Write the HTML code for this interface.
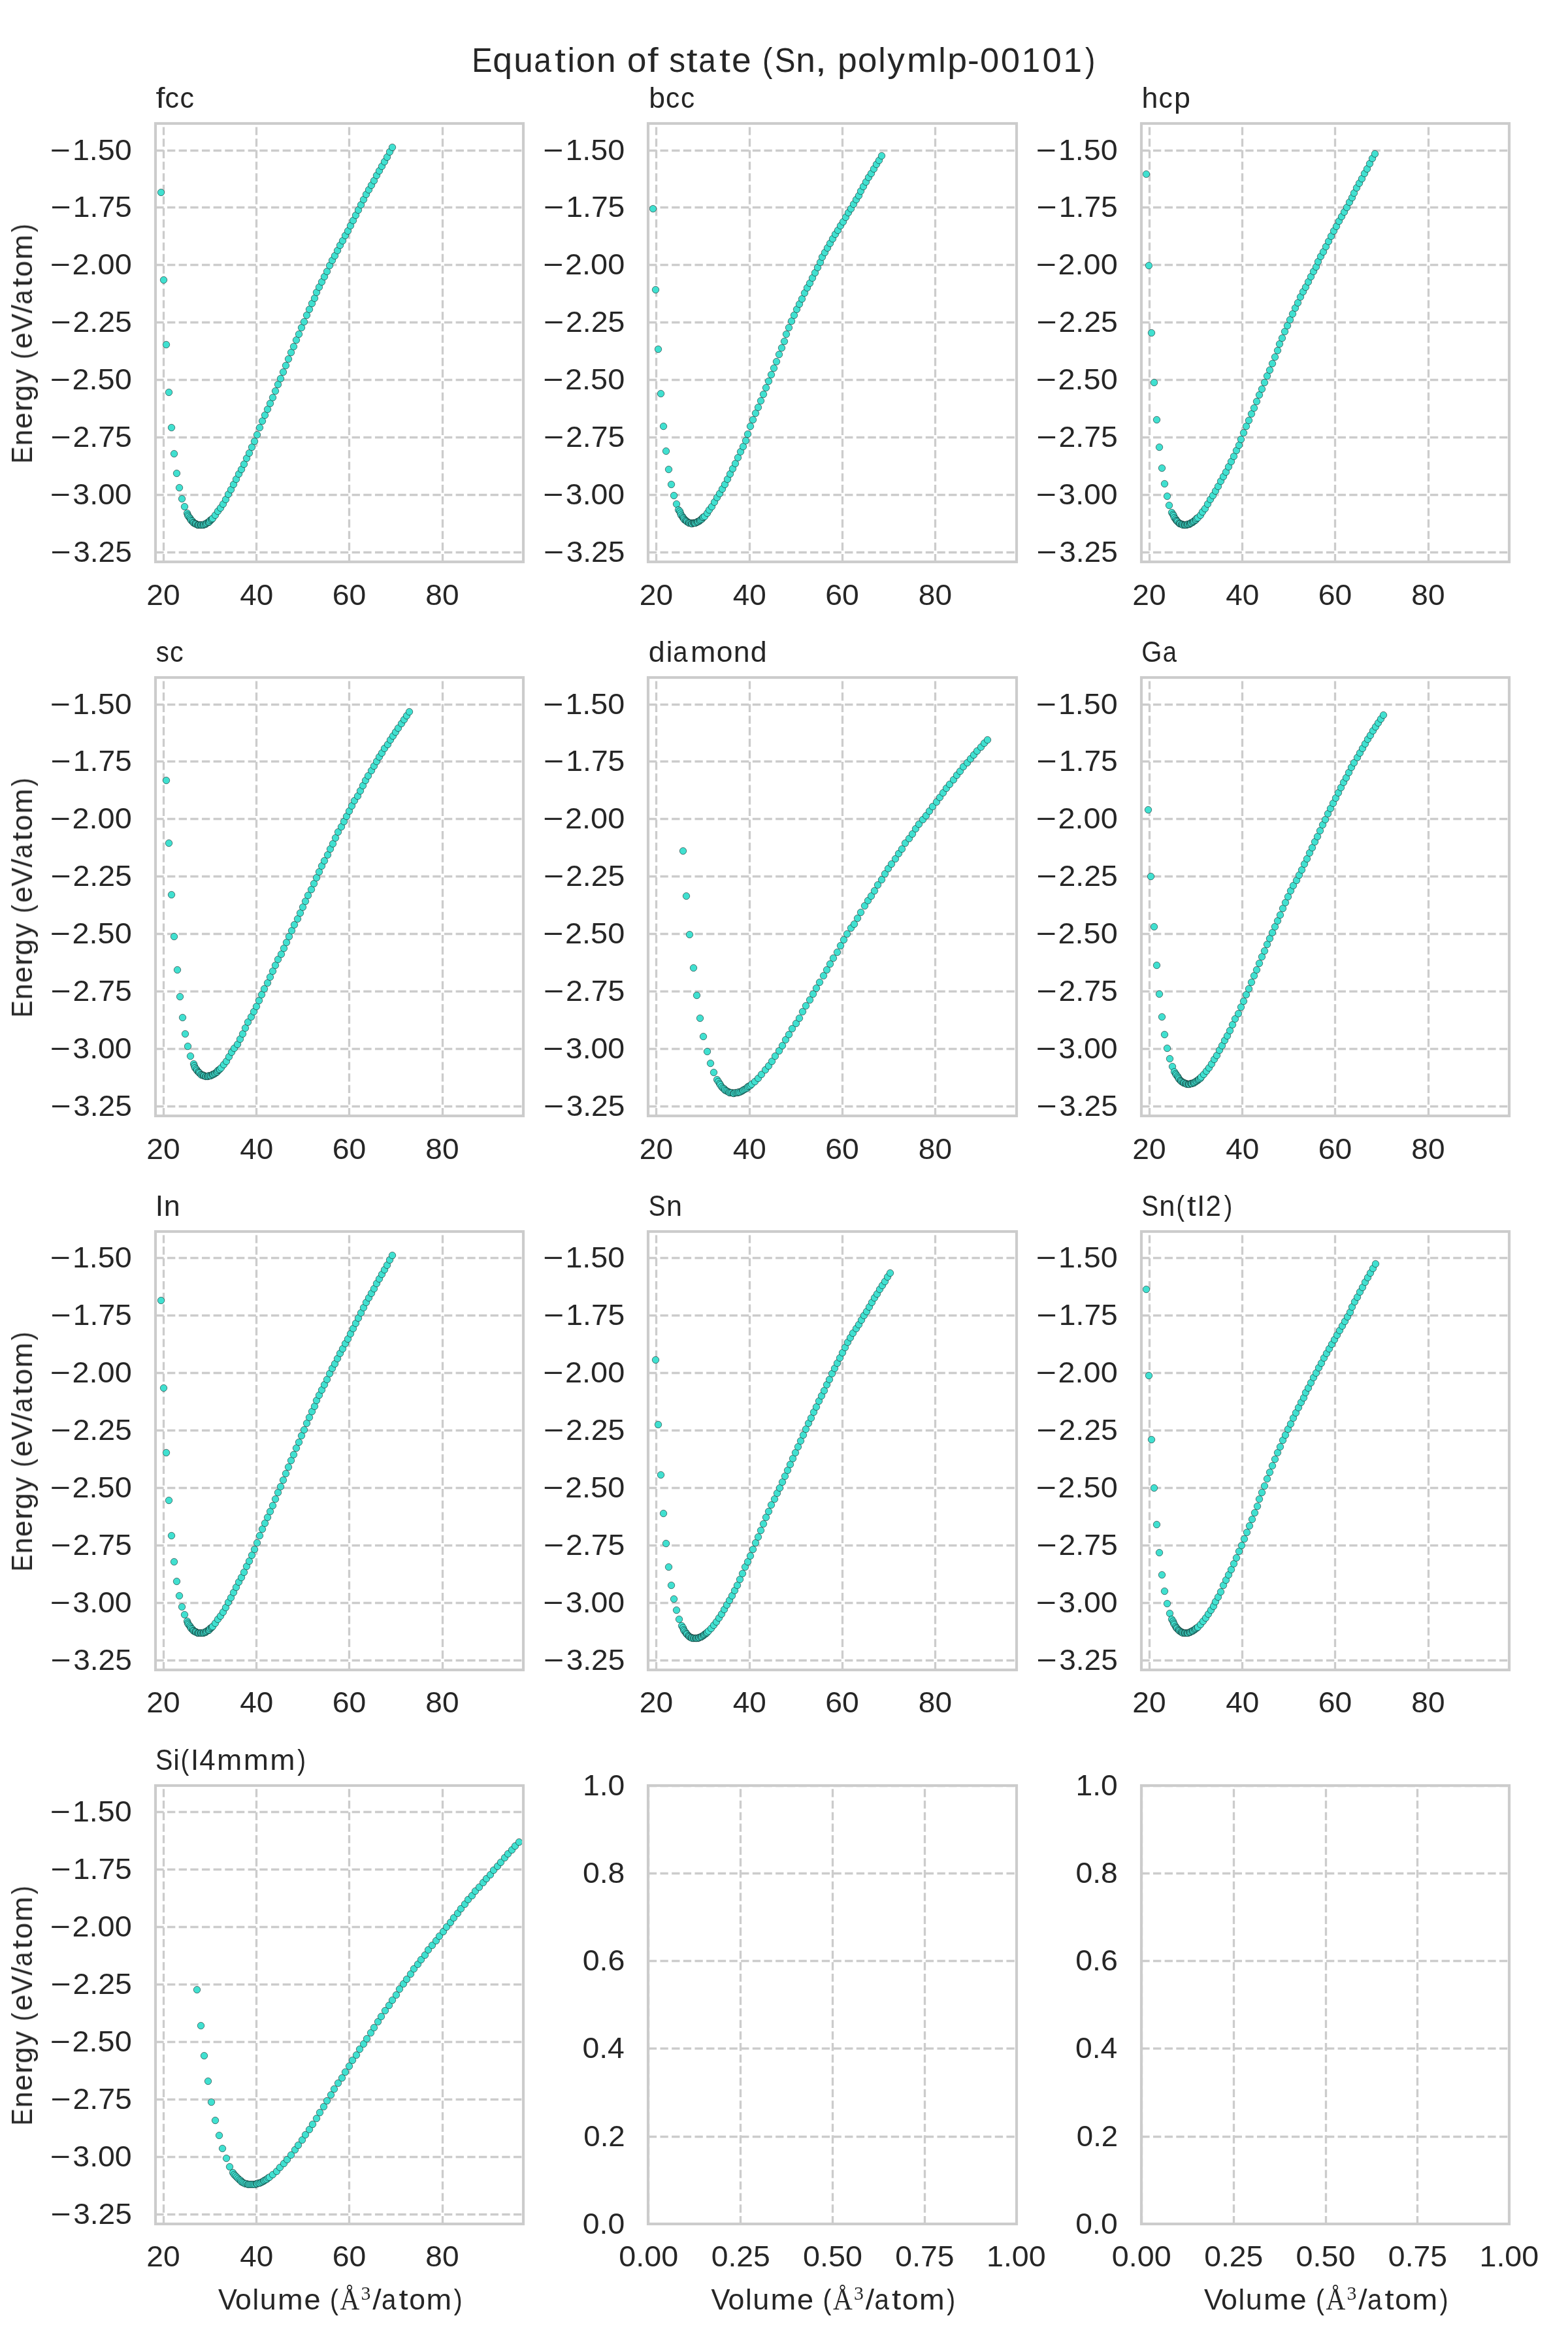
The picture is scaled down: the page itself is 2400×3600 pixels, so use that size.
<!DOCTYPE html>
<html lang="en"><head><meta charset="utf-8"><title>Equation of state (Sn, polymlp-00101)</title>
<style>html,body{margin:0;padding:0;background:#fff;overflow:hidden;width:2400px;height:3600px}svg{display:block}text{font-family:"Liberation Sans",sans-serif;fill:#262626}.sf{font-family:"Liberation Serif",serif}.g line{stroke:#cccccc;stroke-width:3.333;stroke-dasharray:12.333 5.333}.sp{fill:none;stroke:#cccccc;stroke-width:4.167}.m{fill:#40e0d0;stroke:#000;stroke-width:.5}</style></head>
<body>
<svg width="2400" height="3600" viewBox="0 0 2400 3600">
<rect width="2400" height="3600" fill="#fff"/>
<g id="ax0">
<clipPath id="c0"><rect x="238.3" y="189.45" width="563.45" height="671"/></clipPath>
<g class="g" clip-path="url(#c0)"><line x1="250.5" y1="860.45" x2="250.5" y2="189.45"/><line x1="392.5" y1="860.45" x2="392.5" y2="189.45"/><line x1="534.5" y1="860.45" x2="534.5" y2="189.45"/><line x1="677.5" y1="860.45" x2="677.5" y2="189.45"/><line x1="238.3" y1="230.5" x2="801.75" y2="230.5"/><line x1="238.3" y1="317.5" x2="801.75" y2="317.5"/><line x1="238.3" y1="405.5" x2="801.75" y2="405.5"/><line x1="238.3" y1="493.5" x2="801.75" y2="493.5"/><line x1="238.3" y1="581.5" x2="801.75" y2="581.5"/><line x1="238.3" y1="669.5" x2="801.75" y2="669.5"/><line x1="238.3" y1="757.5" x2="801.75" y2="757.5"/><line x1="238.3" y1="845.5" x2="801.75" y2="845.5"/></g>
<g class="m" clip-path="url(#c0)"><circle cx="246.5" cy="294.5" r="5.21"/><circle cx="250.5" cy="428.5" r="5.21"/><circle cx="254.5" cy="527.5" r="5.21"/><circle cx="258.5" cy="600.5" r="5.21"/><circle cx="262.5" cy="654.5" r="5.21"/><circle cx="266.5" cy="694.5" r="5.21"/><circle cx="270.5" cy="724.5" r="5.21"/><circle cx="274.5" cy="746.5" r="5.21"/><circle cx="278.5" cy="763.5" r="5.21"/><circle cx="282.5" cy="775.5" r="5.21"/><circle cx="286.5" cy="785.5" r="5.21"/><circle cx="287.5" cy="788.5" r="5.21"/><circle cx="288.5" cy="790.5" r="5.21"/><circle cx="290.5" cy="792.5" r="5.21"/><circle cx="291.5" cy="794.5" r="5.21"/><circle cx="292.5" cy="796.5" r="5.21"/><circle cx="294.5" cy="797.5" r="5.21"/><circle cx="295.5" cy="799.5" r="5.21"/><circle cx="296.5" cy="800.5" r="5.21"/><circle cx="298.5" cy="801.5" r="5.21"/><circle cx="299.5" cy="801.5" r="5.21"/><circle cx="300.5" cy="802.5" r="5.21"/><circle cx="302.5" cy="803.5" r="5.21"/><circle cx="303.5" cy="803.5" r="5.21"/><circle cx="304.5" cy="803.5" r="5.21"/><circle cx="306.5" cy="803.5" r="5.21"/><circle cx="307.5" cy="803.5" r="5.21"/><circle cx="308.5" cy="803.5" r="5.21"/><circle cx="310.5" cy="803.5" r="5.21"/><circle cx="311.5" cy="803.5" r="5.21"/><circle cx="312.5" cy="802.5" r="5.21"/><circle cx="314.5" cy="802.5" r="5.21"/><circle cx="315.5" cy="801.5" r="5.21"/><circle cx="316.5" cy="800.5" r="5.21"/><circle cx="318.5" cy="799.5" r="5.21"/><circle cx="319.5" cy="799.5" r="5.21"/><circle cx="320.5" cy="798.5" r="5.21"/><circle cx="321.5" cy="796.5" r="5.21"/><circle cx="323.5" cy="795.5" r="5.21"/><circle cx="324.5" cy="794.5" r="5.21"/><circle cx="325.5" cy="793.5" r="5.21"/><circle cx="329.5" cy="788.5" r="5.21"/><circle cx="333.5" cy="782.5" r="5.21"/><circle cx="337.5" cy="777.5" r="5.21"/><circle cx="341.5" cy="771.5" r="5.21"/><circle cx="345.5" cy="764.5" r="5.21"/><circle cx="349.5" cy="756.5" r="5.21"/><circle cx="353.5" cy="749.5" r="5.21"/><circle cx="357.5" cy="741.5" r="5.21"/><circle cx="361.5" cy="733.5" r="5.21"/><circle cx="365.5" cy="725.5" r="5.21"/><circle cx="369.5" cy="718.5" r="5.21"/><circle cx="373.5" cy="710.5" r="5.21"/><circle cx="377.5" cy="701.5" r="5.21"/><circle cx="381.5" cy="693.5" r="5.21"/><circle cx="385.5" cy="684.5" r="5.21"/><circle cx="389.5" cy="675.5" r="5.21"/><circle cx="393.5" cy="665.5" r="5.21"/><circle cx="397.5" cy="654.5" r="5.21"/><circle cx="401.5" cy="644.5" r="5.21"/><circle cx="405.5" cy="635.5" r="5.21"/><circle cx="409.5" cy="626.5" r="5.21"/><circle cx="413.5" cy="617.5" r="5.21"/><circle cx="417.5" cy="608.5" r="5.21"/><circle cx="421.5" cy="598.5" r="5.21"/><circle cx="425.5" cy="588.5" r="5.21"/><circle cx="429.5" cy="579.5" r="5.21"/><circle cx="433.5" cy="569.5" r="5.21"/><circle cx="437.5" cy="559.5" r="5.21"/><circle cx="441.5" cy="549.5" r="5.21"/><circle cx="445.5" cy="539.5" r="5.21"/><circle cx="449.5" cy="530.5" r="5.21"/><circle cx="453.5" cy="520.5" r="5.21"/><circle cx="457.5" cy="511.5" r="5.21"/><circle cx="461.5" cy="501.5" r="5.21"/><circle cx="465.5" cy="492.5" r="5.21"/><circle cx="469.5" cy="482.5" r="5.21"/><circle cx="473.5" cy="473.5" r="5.21"/><circle cx="477.5" cy="464.5" r="5.21"/><circle cx="481.5" cy="456.5" r="5.21"/><circle cx="484.5" cy="447.5" r="5.21"/><circle cx="488.5" cy="439.5" r="5.21"/><circle cx="492.5" cy="431.5" r="5.21"/><circle cx="496.5" cy="423.5" r="5.21"/><circle cx="500.5" cy="415.5" r="5.21"/><circle cx="504.5" cy="406.5" r="5.21"/><circle cx="508.5" cy="398.5" r="5.21"/><circle cx="512.5" cy="391.5" r="5.21"/><circle cx="516.5" cy="383.5" r="5.21"/><circle cx="520.5" cy="375.5" r="5.21"/><circle cx="524.5" cy="368.5" r="5.21"/><circle cx="528.5" cy="360.5" r="5.21"/><circle cx="532.5" cy="353.5" r="5.21"/><circle cx="536.5" cy="345.5" r="5.21"/><circle cx="540.5" cy="337.5" r="5.21"/><circle cx="544.5" cy="329.5" r="5.21"/><circle cx="548.5" cy="321.5" r="5.21"/><circle cx="552.5" cy="313.5" r="5.21"/><circle cx="556.5" cy="305.5" r="5.21"/><circle cx="560.5" cy="297.5" r="5.21"/><circle cx="564.5" cy="290.5" r="5.21"/><circle cx="568.5" cy="283.5" r="5.21"/><circle cx="572.5" cy="276.5" r="5.21"/><circle cx="576.5" cy="268.5" r="5.21"/><circle cx="580.5" cy="261.5" r="5.21"/><circle cx="584.5" cy="254.5" r="5.21"/><circle cx="588.5" cy="247.5" r="5.21"/><circle cx="592.5" cy="240.5" r="5.21"/><circle cx="596.5" cy="232.5" r="5.21"/><circle cx="600.5" cy="225.5" r="5.21"/></g>
<rect class="sp" x="238" y="189" width="563" height="671"/>
</g>
<g id="ax1">
<clipPath id="c1"><rect x="992.8" y="189.45" width="563.45" height="671"/></clipPath>
<g class="g" clip-path="url(#c1)"><line x1="1004.5" y1="860.45" x2="1004.5" y2="189.45"/><line x1="1147.5" y1="860.45" x2="1147.5" y2="189.45"/><line x1="1289.5" y1="860.45" x2="1289.5" y2="189.45"/><line x1="1431.5" y1="860.45" x2="1431.5" y2="189.45"/><line x1="992.8" y1="230.5" x2="1556.25" y2="230.5"/><line x1="992.8" y1="317.5" x2="1556.25" y2="317.5"/><line x1="992.8" y1="405.5" x2="1556.25" y2="405.5"/><line x1="992.8" y1="493.5" x2="1556.25" y2="493.5"/><line x1="992.8" y1="581.5" x2="1556.25" y2="581.5"/><line x1="992.8" y1="669.5" x2="1556.25" y2="669.5"/><line x1="992.8" y1="757.5" x2="1556.25" y2="757.5"/><line x1="992.8" y1="845.5" x2="1556.25" y2="845.5"/></g>
<g class="m" clip-path="url(#c1)"><circle cx="999.5" cy="319.5" r="5.21"/><circle cx="1003.5" cy="443.5" r="5.21"/><circle cx="1007.5" cy="534.5" r="5.21"/><circle cx="1011.5" cy="602.5" r="5.21"/><circle cx="1015.5" cy="652.5" r="5.21"/><circle cx="1019.5" cy="690.5" r="5.21"/><circle cx="1023.5" cy="718.5" r="5.21"/><circle cx="1027.5" cy="741.5" r="5.21"/><circle cx="1031.5" cy="758.5" r="5.21"/><circle cx="1035.5" cy="771.5" r="5.21"/><circle cx="1038.5" cy="780.5" r="5.21"/><circle cx="1040.5" cy="782.5" r="5.21"/><circle cx="1041.5" cy="785.5" r="5.21"/><circle cx="1042.5" cy="788.5" r="5.21"/><circle cx="1044.5" cy="790.5" r="5.21"/><circle cx="1045.5" cy="792.5" r="5.21"/><circle cx="1046.5" cy="793.5" r="5.21"/><circle cx="1047.5" cy="795.5" r="5.21"/><circle cx="1049.5" cy="796.5" r="5.21"/><circle cx="1050.5" cy="797.5" r="5.21"/><circle cx="1051.5" cy="798.5" r="5.21"/><circle cx="1053.5" cy="799.5" r="5.21"/><circle cx="1054.5" cy="800.5" r="5.21"/><circle cx="1055.5" cy="800.5" r="5.21"/><circle cx="1057.5" cy="800.5" r="5.21"/><circle cx="1058.5" cy="801.5" r="5.21"/><circle cx="1059.5" cy="801.5" r="5.21"/><circle cx="1061.5" cy="800.5" r="5.21"/><circle cx="1062.5" cy="800.5" r="5.21"/><circle cx="1063.5" cy="800.5" r="5.21"/><circle cx="1064.5" cy="800.5" r="5.21"/><circle cx="1066.5" cy="799.5" r="5.21"/><circle cx="1067.5" cy="798.5" r="5.21"/><circle cx="1068.5" cy="798.5" r="5.21"/><circle cx="1070.5" cy="797.5" r="5.21"/><circle cx="1071.5" cy="796.5" r="5.21"/><circle cx="1072.5" cy="795.5" r="5.21"/><circle cx="1074.5" cy="794.5" r="5.21"/><circle cx="1075.5" cy="792.5" r="5.21"/><circle cx="1076.5" cy="791.5" r="5.21"/><circle cx="1078.5" cy="790.5" r="5.21"/><circle cx="1082.5" cy="785.5" r="5.21"/><circle cx="1085.5" cy="780.5" r="5.21"/><circle cx="1089.5" cy="775.5" r="5.21"/><circle cx="1093.5" cy="768.5" r="5.21"/><circle cx="1097.5" cy="761.5" r="5.21"/><circle cx="1101.5" cy="755.5" r="5.21"/><circle cx="1105.5" cy="748.5" r="5.21"/><circle cx="1109.5" cy="741.5" r="5.21"/><circle cx="1113.5" cy="733.5" r="5.21"/><circle cx="1117.5" cy="725.5" r="5.21"/><circle cx="1121.5" cy="717.5" r="5.21"/><circle cx="1125.5" cy="709.5" r="5.21"/><circle cx="1129.5" cy="700.5" r="5.21"/><circle cx="1133.5" cy="691.5" r="5.21"/><circle cx="1137.5" cy="683.5" r="5.21"/><circle cx="1141.5" cy="674.5" r="5.21"/><circle cx="1144.5" cy="664.5" r="5.21"/><circle cx="1148.5" cy="652.5" r="5.21"/><circle cx="1152.5" cy="642.5" r="5.21"/><circle cx="1156.5" cy="632.5" r="5.21"/><circle cx="1160.5" cy="623.5" r="5.21"/><circle cx="1164.5" cy="613.5" r="5.21"/><circle cx="1168.5" cy="603.5" r="5.21"/><circle cx="1172.5" cy="593.5" r="5.21"/><circle cx="1176.5" cy="583.5" r="5.21"/><circle cx="1180.5" cy="573.5" r="5.21"/><circle cx="1184.5" cy="563.5" r="5.21"/><circle cx="1188.5" cy="553.5" r="5.21"/><circle cx="1192.5" cy="542.5" r="5.21"/><circle cx="1196.5" cy="532.5" r="5.21"/><circle cx="1200.5" cy="522.5" r="5.21"/><circle cx="1203.5" cy="511.5" r="5.21"/><circle cx="1207.5" cy="501.5" r="5.21"/><circle cx="1211.5" cy="491.5" r="5.21"/><circle cx="1215.5" cy="482.5" r="5.21"/><circle cx="1219.5" cy="473.5" r="5.21"/><circle cx="1223.5" cy="465.5" r="5.21"/><circle cx="1227.5" cy="457.5" r="5.21"/><circle cx="1231.5" cy="448.5" r="5.21"/><circle cx="1235.5" cy="440.5" r="5.21"/><circle cx="1239.5" cy="433.5" r="5.21"/><circle cx="1243.5" cy="425.5" r="5.21"/><circle cx="1247.5" cy="417.5" r="5.21"/><circle cx="1251.5" cy="409.5" r="5.21"/><circle cx="1255.5" cy="401.5" r="5.21"/><circle cx="1258.5" cy="393.5" r="5.21"/><circle cx="1262.5" cy="386.5" r="5.21"/><circle cx="1266.5" cy="379.5" r="5.21"/><circle cx="1270.5" cy="372.5" r="5.21"/><circle cx="1274.5" cy="365.5" r="5.21"/><circle cx="1278.5" cy="358.5" r="5.21"/><circle cx="1282.5" cy="352.5" r="5.21"/><circle cx="1286.5" cy="345.5" r="5.21"/><circle cx="1290.5" cy="339.5" r="5.21"/><circle cx="1294.5" cy="332.5" r="5.21"/><circle cx="1298.5" cy="325.5" r="5.21"/><circle cx="1302.5" cy="319.5" r="5.21"/><circle cx="1306.5" cy="312.5" r="5.21"/><circle cx="1310.5" cy="305.5" r="5.21"/><circle cx="1314.5" cy="299.5" r="5.21"/><circle cx="1317.5" cy="292.5" r="5.21"/><circle cx="1321.5" cy="285.5" r="5.21"/><circle cx="1325.5" cy="278.5" r="5.21"/><circle cx="1329.5" cy="271.5" r="5.21"/><circle cx="1333.5" cy="265.5" r="5.21"/><circle cx="1337.5" cy="258.5" r="5.21"/><circle cx="1341.5" cy="251.5" r="5.21"/><circle cx="1345.5" cy="245.5" r="5.21"/><circle cx="1349.5" cy="238.5" r="5.21"/></g>
<rect class="sp" x="992" y="189" width="564" height="671"/>
</g>
<g id="ax2">
<clipPath id="c2"><rect x="1747.3" y="189.45" width="563.45" height="671"/></clipPath>
<g class="g" clip-path="url(#c2)"><line x1="1759.5" y1="860.45" x2="1759.5" y2="189.45"/><line x1="1901.5" y1="860.45" x2="1901.5" y2="189.45"/><line x1="2043.5" y1="860.45" x2="2043.5" y2="189.45"/><line x1="2186.5" y1="860.45" x2="2186.5" y2="189.45"/><line x1="1747.3" y1="230.5" x2="2310.75" y2="230.5"/><line x1="1747.3" y1="317.5" x2="2310.75" y2="317.5"/><line x1="1747.3" y1="405.5" x2="2310.75" y2="405.5"/><line x1="1747.3" y1="493.5" x2="2310.75" y2="493.5"/><line x1="1747.3" y1="581.5" x2="2310.75" y2="581.5"/><line x1="1747.3" y1="669.5" x2="2310.75" y2="669.5"/><line x1="1747.3" y1="757.5" x2="2310.75" y2="757.5"/><line x1="1747.3" y1="845.5" x2="2310.75" y2="845.5"/></g>
<g class="m" clip-path="url(#c2)"><circle cx="1754.5" cy="266.5" r="5.21"/><circle cx="1758.5" cy="406.5" r="5.21"/><circle cx="1762.5" cy="509.5" r="5.21"/><circle cx="1766.5" cy="585.5" r="5.21"/><circle cx="1770.5" cy="642.5" r="5.21"/><circle cx="1774.5" cy="684.5" r="5.21"/><circle cx="1778.5" cy="716.5" r="5.21"/><circle cx="1782.5" cy="740.5" r="5.21"/><circle cx="1786.5" cy="759.5" r="5.21"/><circle cx="1789.5" cy="773.5" r="5.21"/><circle cx="1793.5" cy="784.5" r="5.21"/><circle cx="1795.5" cy="787.5" r="5.21"/><circle cx="1796.5" cy="789.5" r="5.21"/><circle cx="1797.5" cy="792.5" r="5.21"/><circle cx="1799.5" cy="794.5" r="5.21"/><circle cx="1800.5" cy="796.5" r="5.21"/><circle cx="1801.5" cy="797.5" r="5.21"/><circle cx="1802.5" cy="798.5" r="5.21"/><circle cx="1804.5" cy="800.5" r="5.21"/><circle cx="1805.5" cy="801.5" r="5.21"/><circle cx="1806.5" cy="801.5" r="5.21"/><circle cx="1808.5" cy="802.5" r="5.21"/><circle cx="1809.5" cy="802.5" r="5.21"/><circle cx="1810.5" cy="803.5" r="5.21"/><circle cx="1812.5" cy="803.5" r="5.21"/><circle cx="1813.5" cy="803.5" r="5.21"/><circle cx="1814.5" cy="803.5" r="5.21"/><circle cx="1816.5" cy="803.5" r="5.21"/><circle cx="1817.5" cy="802.5" r="5.21"/><circle cx="1818.5" cy="802.5" r="5.21"/><circle cx="1820.5" cy="802.5" r="5.21"/><circle cx="1821.5" cy="801.5" r="5.21"/><circle cx="1822.5" cy="800.5" r="5.21"/><circle cx="1823.5" cy="800.5" r="5.21"/><circle cx="1825.5" cy="799.5" r="5.21"/><circle cx="1826.5" cy="798.5" r="5.21"/><circle cx="1827.5" cy="797.5" r="5.21"/><circle cx="1829.5" cy="796.5" r="5.21"/><circle cx="1830.5" cy="795.5" r="5.21"/><circle cx="1831.5" cy="793.5" r="5.21"/><circle cx="1833.5" cy="792.5" r="5.21"/><circle cx="1837.5" cy="788.5" r="5.21"/><circle cx="1840.5" cy="783.5" r="5.21"/><circle cx="1844.5" cy="778.5" r="5.21"/><circle cx="1848.5" cy="771.5" r="5.21"/><circle cx="1852.5" cy="764.5" r="5.21"/><circle cx="1856.5" cy="758.5" r="5.21"/><circle cx="1860.5" cy="751.5" r="5.21"/><circle cx="1864.5" cy="744.5" r="5.21"/><circle cx="1868.5" cy="736.5" r="5.21"/><circle cx="1872.5" cy="729.5" r="5.21"/><circle cx="1876.5" cy="722.5" r="5.21"/><circle cx="1880.5" cy="714.5" r="5.21"/><circle cx="1884.5" cy="706.5" r="5.21"/><circle cx="1888.5" cy="698.5" r="5.21"/><circle cx="1892.5" cy="689.5" r="5.21"/><circle cx="1896.5" cy="681.5" r="5.21"/><circle cx="1899.5" cy="672.5" r="5.21"/><circle cx="1903.5" cy="662.5" r="5.21"/><circle cx="1907.5" cy="652.5" r="5.21"/><circle cx="1911.5" cy="643.5" r="5.21"/><circle cx="1915.5" cy="633.5" r="5.21"/><circle cx="1919.5" cy="624.5" r="5.21"/><circle cx="1923.5" cy="614.5" r="5.21"/><circle cx="1927.5" cy="604.5" r="5.21"/><circle cx="1931.5" cy="595.5" r="5.21"/><circle cx="1935.5" cy="585.5" r="5.21"/><circle cx="1939.5" cy="575.5" r="5.21"/><circle cx="1943.5" cy="566.5" r="5.21"/><circle cx="1947.5" cy="556.5" r="5.21"/><circle cx="1951.5" cy="546.5" r="5.21"/><circle cx="1955.5" cy="536.5" r="5.21"/><circle cx="1958.5" cy="526.5" r="5.21"/><circle cx="1962.5" cy="517.5" r="5.21"/><circle cx="1966.5" cy="507.5" r="5.21"/><circle cx="1970.5" cy="498.5" r="5.21"/><circle cx="1974.5" cy="489.5" r="5.21"/><circle cx="1978.5" cy="480.5" r="5.21"/><circle cx="1982.5" cy="471.5" r="5.21"/><circle cx="1986.5" cy="463.5" r="5.21"/><circle cx="1990.5" cy="454.5" r="5.21"/><circle cx="1994.5" cy="446.5" r="5.21"/><circle cx="1998.5" cy="439.5" r="5.21"/><circle cx="2002.5" cy="431.5" r="5.21"/><circle cx="2006.5" cy="423.5" r="5.21"/><circle cx="2010.5" cy="415.5" r="5.21"/><circle cx="2014.5" cy="408.5" r="5.21"/><circle cx="2017.5" cy="400.5" r="5.21"/><circle cx="2021.5" cy="392.5" r="5.21"/><circle cx="2025.5" cy="385.5" r="5.21"/><circle cx="2029.5" cy="377.5" r="5.21"/><circle cx="2033.5" cy="369.5" r="5.21"/><circle cx="2037.5" cy="361.5" r="5.21"/><circle cx="2041.5" cy="353.5" r="5.21"/><circle cx="2045.5" cy="346.5" r="5.21"/><circle cx="2049.5" cy="338.5" r="5.21"/><circle cx="2053.5" cy="331.5" r="5.21"/><circle cx="2057.5" cy="324.5" r="5.21"/><circle cx="2061.5" cy="317.5" r="5.21"/><circle cx="2065.5" cy="309.5" r="5.21"/><circle cx="2069.5" cy="302.5" r="5.21"/><circle cx="2072.5" cy="295.5" r="5.21"/><circle cx="2076.5" cy="287.5" r="5.21"/><circle cx="2080.5" cy="280.5" r="5.21"/><circle cx="2084.5" cy="273.5" r="5.21"/><circle cx="2088.5" cy="265.5" r="5.21"/><circle cx="2092.5" cy="258.5" r="5.21"/><circle cx="2096.5" cy="250.5" r="5.21"/><circle cx="2100.5" cy="242.5" r="5.21"/><circle cx="2104.5" cy="235.5" r="5.21"/></g>
<rect class="sp" x="1747" y="189" width="563" height="671"/>
</g>
<g id="ax3">
<clipPath id="c3"><rect x="238.3" y="1037.41" width="563.45" height="671"/></clipPath>
<g class="g" clip-path="url(#c3)"><line x1="250.5" y1="1708.41" x2="250.5" y2="1037.41"/><line x1="392.5" y1="1708.41" x2="392.5" y2="1037.41"/><line x1="534.5" y1="1708.41" x2="534.5" y2="1037.41"/><line x1="677.5" y1="1708.41" x2="677.5" y2="1037.41"/><line x1="238.3" y1="1078.5" x2="801.75" y2="1078.5"/><line x1="238.3" y1="1165.5" x2="801.75" y2="1165.5"/><line x1="238.3" y1="1253.5" x2="801.75" y2="1253.5"/><line x1="238.3" y1="1341.5" x2="801.75" y2="1341.5"/><line x1="238.3" y1="1429.5" x2="801.75" y2="1429.5"/><line x1="238.3" y1="1517.5" x2="801.75" y2="1517.5"/><line x1="238.3" y1="1605.5" x2="801.75" y2="1605.5"/><line x1="238.3" y1="1693.5" x2="801.75" y2="1693.5"/></g>
<g class="m" clip-path="url(#c3)"><circle cx="254.5" cy="1194.5" r="5.21"/><circle cx="258.5" cy="1290.5" r="5.21"/><circle cx="262.5" cy="1369.5" r="5.21"/><circle cx="266.5" cy="1433.5" r="5.21"/><circle cx="271.5" cy="1484.5" r="5.21"/><circle cx="275.5" cy="1525.5" r="5.21"/><circle cx="279.5" cy="1557.5" r="5.21"/><circle cx="283.5" cy="1582.5" r="5.21"/><circle cx="287.5" cy="1601.5" r="5.21"/><circle cx="291.5" cy="1616.5" r="5.21"/><circle cx="296.5" cy="1628.5" r="5.21"/><circle cx="297.5" cy="1631.5" r="5.21"/><circle cx="298.5" cy="1634.5" r="5.21"/><circle cx="300.5" cy="1636.5" r="5.21"/><circle cx="301.5" cy="1638.5" r="5.21"/><circle cx="303.5" cy="1640.5" r="5.21"/><circle cx="304.5" cy="1641.5" r="5.21"/><circle cx="305.5" cy="1642.5" r="5.21"/><circle cx="307.5" cy="1644.5" r="5.21"/><circle cx="308.5" cy="1645.5" r="5.21"/><circle cx="310.5" cy="1645.5" r="5.21"/><circle cx="311.5" cy="1646.5" r="5.21"/><circle cx="312.5" cy="1646.5" r="5.21"/><circle cx="314.5" cy="1647.5" r="5.21"/><circle cx="315.5" cy="1647.5" r="5.21"/><circle cx="317.5" cy="1647.5" r="5.21"/><circle cx="318.5" cy="1647.5" r="5.21"/><circle cx="319.5" cy="1646.5" r="5.21"/><circle cx="321.5" cy="1646.5" r="5.21"/><circle cx="322.5" cy="1646.5" r="5.21"/><circle cx="324.5" cy="1645.5" r="5.21"/><circle cx="325.5" cy="1644.5" r="5.21"/><circle cx="326.5" cy="1644.5" r="5.21"/><circle cx="328.5" cy="1643.5" r="5.21"/><circle cx="329.5" cy="1642.5" r="5.21"/><circle cx="331.5" cy="1641.5" r="5.21"/><circle cx="332.5" cy="1640.5" r="5.21"/><circle cx="333.5" cy="1638.5" r="5.21"/><circle cx="335.5" cy="1637.5" r="5.21"/><circle cx="336.5" cy="1636.5" r="5.21"/><circle cx="338.5" cy="1634.5" r="5.21"/><circle cx="342.5" cy="1629.5" r="5.21"/><circle cx="346.5" cy="1624.5" r="5.21"/><circle cx="350.5" cy="1617.5" r="5.21"/><circle cx="354.5" cy="1610.5" r="5.21"/><circle cx="358.5" cy="1604.5" r="5.21"/><circle cx="363.5" cy="1598.5" r="5.21"/><circle cx="367.5" cy="1590.5" r="5.21"/><circle cx="371.5" cy="1582.5" r="5.21"/><circle cx="375.5" cy="1573.5" r="5.21"/><circle cx="379.5" cy="1564.5" r="5.21"/><circle cx="384.5" cy="1556.5" r="5.21"/><circle cx="388.5" cy="1548.5" r="5.21"/><circle cx="392.5" cy="1540.5" r="5.21"/><circle cx="396.5" cy="1531.5" r="5.21"/><circle cx="400.5" cy="1522.5" r="5.21"/><circle cx="404.5" cy="1513.5" r="5.21"/><circle cx="409.5" cy="1504.5" r="5.21"/><circle cx="413.5" cy="1495.5" r="5.21"/><circle cx="417.5" cy="1486.5" r="5.21"/><circle cx="421.5" cy="1477.5" r="5.21"/><circle cx="425.5" cy="1468.5" r="5.21"/><circle cx="430.5" cy="1460.5" r="5.21"/><circle cx="434.5" cy="1451.5" r="5.21"/><circle cx="438.5" cy="1442.5" r="5.21"/><circle cx="442.5" cy="1433.5" r="5.21"/><circle cx="446.5" cy="1424.5" r="5.21"/><circle cx="450.5" cy="1415.5" r="5.21"/><circle cx="455.5" cy="1406.5" r="5.21"/><circle cx="459.5" cy="1397.5" r="5.21"/><circle cx="463.5" cy="1388.5" r="5.21"/><circle cx="467.5" cy="1379.5" r="5.21"/><circle cx="471.5" cy="1370.5" r="5.21"/><circle cx="476.5" cy="1361.5" r="5.21"/><circle cx="480.5" cy="1352.5" r="5.21"/><circle cx="484.5" cy="1343.5" r="5.21"/><circle cx="488.5" cy="1334.5" r="5.21"/><circle cx="492.5" cy="1325.5" r="5.21"/><circle cx="496.5" cy="1317.5" r="5.21"/><circle cx="501.5" cy="1308.5" r="5.21"/><circle cx="505.5" cy="1299.5" r="5.21"/><circle cx="509.5" cy="1291.5" r="5.21"/><circle cx="513.5" cy="1282.5" r="5.21"/><circle cx="517.5" cy="1273.5" r="5.21"/><circle cx="522.5" cy="1265.5" r="5.21"/><circle cx="526.5" cy="1257.5" r="5.21"/><circle cx="530.5" cy="1249.5" r="5.21"/><circle cx="534.5" cy="1241.5" r="5.21"/><circle cx="538.5" cy="1233.5" r="5.21"/><circle cx="542.5" cy="1225.5" r="5.21"/><circle cx="547.5" cy="1218.5" r="5.21"/><circle cx="551.5" cy="1210.5" r="5.21"/><circle cx="555.5" cy="1202.5" r="5.21"/><circle cx="559.5" cy="1194.5" r="5.21"/><circle cx="563.5" cy="1187.5" r="5.21"/><circle cx="568.5" cy="1179.5" r="5.21"/><circle cx="572.5" cy="1172.5" r="5.21"/><circle cx="576.5" cy="1165.5" r="5.21"/><circle cx="580.5" cy="1158.5" r="5.21"/><circle cx="584.5" cy="1152.5" r="5.21"/><circle cx="588.5" cy="1145.5" r="5.21"/><circle cx="593.5" cy="1139.5" r="5.21"/><circle cx="597.5" cy="1132.5" r="5.21"/><circle cx="601.5" cy="1126.5" r="5.21"/><circle cx="605.5" cy="1120.5" r="5.21"/><circle cx="609.5" cy="1114.5" r="5.21"/><circle cx="614.5" cy="1107.5" r="5.21"/><circle cx="618.5" cy="1101.5" r="5.21"/><circle cx="622.5" cy="1095.5" r="5.21"/><circle cx="626.5" cy="1089.5" r="5.21"/></g>
<rect class="sp" x="238" y="1037" width="563" height="671"/>
</g>
<g id="ax4">
<clipPath id="c4"><rect x="992.8" y="1037.41" width="563.45" height="671"/></clipPath>
<g class="g" clip-path="url(#c4)"><line x1="1004.5" y1="1708.41" x2="1004.5" y2="1037.41"/><line x1="1147.5" y1="1708.41" x2="1147.5" y2="1037.41"/><line x1="1289.5" y1="1708.41" x2="1289.5" y2="1037.41"/><line x1="1431.5" y1="1708.41" x2="1431.5" y2="1037.41"/><line x1="992.8" y1="1078.5" x2="1556.25" y2="1078.5"/><line x1="992.8" y1="1165.5" x2="1556.25" y2="1165.5"/><line x1="992.8" y1="1253.5" x2="1556.25" y2="1253.5"/><line x1="992.8" y1="1341.5" x2="1556.25" y2="1341.5"/><line x1="992.8" y1="1429.5" x2="1556.25" y2="1429.5"/><line x1="992.8" y1="1517.5" x2="1556.25" y2="1517.5"/><line x1="992.8" y1="1605.5" x2="1556.25" y2="1605.5"/><line x1="992.8" y1="1693.5" x2="1556.25" y2="1693.5"/></g>
<g class="m" clip-path="url(#c4)"><circle cx="1045.5" cy="1302.5" r="5.21"/><circle cx="1050.5" cy="1371.5" r="5.21"/><circle cx="1055.5" cy="1430.5" r="5.21"/><circle cx="1061.5" cy="1481.5" r="5.21"/><circle cx="1066.5" cy="1523.5" r="5.21"/><circle cx="1071.5" cy="1558.5" r="5.21"/><circle cx="1076.5" cy="1586.5" r="5.21"/><circle cx="1082.5" cy="1609.5" r="5.21"/><circle cx="1087.5" cy="1627.5" r="5.21"/><circle cx="1092.5" cy="1641.5" r="5.21"/><circle cx="1097.5" cy="1652.5" r="5.21"/><circle cx="1099.5" cy="1655.5" r="5.21"/><circle cx="1101.5" cy="1658.5" r="5.21"/><circle cx="1102.5" cy="1660.5" r="5.21"/><circle cx="1104.5" cy="1663.5" r="5.21"/><circle cx="1106.5" cy="1665.5" r="5.21"/><circle cx="1108.5" cy="1666.5" r="5.21"/><circle cx="1109.5" cy="1668.5" r="5.21"/><circle cx="1111.5" cy="1669.5" r="5.21"/><circle cx="1113.5" cy="1670.5" r="5.21"/><circle cx="1115.5" cy="1671.5" r="5.21"/><circle cx="1116.5" cy="1672.5" r="5.21"/><circle cx="1118.5" cy="1672.5" r="5.21"/><circle cx="1120.5" cy="1672.5" r="5.21"/><circle cx="1122.5" cy="1673.5" r="5.21"/><circle cx="1123.5" cy="1673.5" r="5.21"/><circle cx="1125.5" cy="1672.5" r="5.21"/><circle cx="1127.5" cy="1672.5" r="5.21"/><circle cx="1129.5" cy="1672.5" r="5.21"/><circle cx="1130.5" cy="1671.5" r="5.21"/><circle cx="1132.5" cy="1671.5" r="5.21"/><circle cx="1134.5" cy="1670.5" r="5.21"/><circle cx="1136.5" cy="1669.5" r="5.21"/><circle cx="1137.5" cy="1668.5" r="5.21"/><circle cx="1139.5" cy="1667.5" r="5.21"/><circle cx="1141.5" cy="1666.5" r="5.21"/><circle cx="1143.5" cy="1665.5" r="5.21"/><circle cx="1144.5" cy="1663.5" r="5.21"/><circle cx="1146.5" cy="1662.5" r="5.21"/><circle cx="1148.5" cy="1661.5" r="5.21"/><circle cx="1150.5" cy="1659.5" r="5.21"/><circle cx="1155.5" cy="1655.5" r="5.21"/><circle cx="1160.5" cy="1650.5" r="5.21"/><circle cx="1165.5" cy="1644.5" r="5.21"/><circle cx="1171.5" cy="1637.5" r="5.21"/><circle cx="1176.5" cy="1631.5" r="5.21"/><circle cx="1181.5" cy="1624.5" r="5.21"/><circle cx="1186.5" cy="1616.5" r="5.21"/><circle cx="1192.5" cy="1608.5" r="5.21"/><circle cx="1197.5" cy="1600.5" r="5.21"/><circle cx="1202.5" cy="1591.5" r="5.21"/><circle cx="1207.5" cy="1583.5" r="5.21"/><circle cx="1212.5" cy="1574.5" r="5.21"/><circle cx="1218.5" cy="1566.5" r="5.21"/><circle cx="1223.5" cy="1558.5" r="5.21"/><circle cx="1228.5" cy="1548.5" r="5.21"/><circle cx="1233.5" cy="1539.5" r="5.21"/><circle cx="1239.5" cy="1530.5" r="5.21"/><circle cx="1244.5" cy="1521.5" r="5.21"/><circle cx="1249.5" cy="1512.5" r="5.21"/><circle cx="1254.5" cy="1503.5" r="5.21"/><circle cx="1260.5" cy="1493.5" r="5.21"/><circle cx="1265.5" cy="1484.5" r="5.21"/><circle cx="1270.5" cy="1475.5" r="5.21"/><circle cx="1275.5" cy="1466.5" r="5.21"/><circle cx="1281.5" cy="1457.5" r="5.21"/><circle cx="1286.5" cy="1447.5" r="5.21"/><circle cx="1291.5" cy="1438.5" r="5.21"/><circle cx="1296.5" cy="1429.5" r="5.21"/><circle cx="1302.5" cy="1420.5" r="5.21"/><circle cx="1307.5" cy="1414.5" r="5.21"/><circle cx="1312.5" cy="1405.5" r="5.21"/><circle cx="1317.5" cy="1396.5" r="5.21"/><circle cx="1323.5" cy="1386.5" r="5.21"/><circle cx="1328.5" cy="1378.5" r="5.21"/><circle cx="1333.5" cy="1371.5" r="5.21"/><circle cx="1338.5" cy="1363.5" r="5.21"/><circle cx="1343.5" cy="1354.5" r="5.21"/><circle cx="1349.5" cy="1346.5" r="5.21"/><circle cx="1354.5" cy="1337.5" r="5.21"/><circle cx="1359.5" cy="1329.5" r="5.21"/><circle cx="1364.5" cy="1322.5" r="5.21"/><circle cx="1370.5" cy="1314.5" r="5.21"/><circle cx="1375.5" cy="1306.5" r="5.21"/><circle cx="1380.5" cy="1299.5" r="5.21"/><circle cx="1385.5" cy="1290.5" r="5.21"/><circle cx="1391.5" cy="1283.5" r="5.21"/><circle cx="1396.5" cy="1276.5" r="5.21"/><circle cx="1401.5" cy="1268.5" r="5.21"/><circle cx="1406.5" cy="1261.5" r="5.21"/><circle cx="1412.5" cy="1254.5" r="5.21"/><circle cx="1417.5" cy="1248.5" r="5.21"/><circle cx="1422.5" cy="1241.5" r="5.21"/><circle cx="1427.5" cy="1234.5" r="5.21"/><circle cx="1433.5" cy="1227.5" r="5.21"/><circle cx="1438.5" cy="1220.5" r="5.21"/><circle cx="1443.5" cy="1213.5" r="5.21"/><circle cx="1448.5" cy="1206.5" r="5.21"/><circle cx="1453.5" cy="1200.5" r="5.21"/><circle cx="1459.5" cy="1193.5" r="5.21"/><circle cx="1464.5" cy="1186.5" r="5.21"/><circle cx="1469.5" cy="1180.5" r="5.21"/><circle cx="1474.5" cy="1173.5" r="5.21"/><circle cx="1480.5" cy="1167.5" r="5.21"/><circle cx="1485.5" cy="1161.5" r="5.21"/><circle cx="1490.5" cy="1155.5" r="5.21"/><circle cx="1495.5" cy="1149.5" r="5.21"/><circle cx="1501.5" cy="1143.5" r="5.21"/><circle cx="1506.5" cy="1137.5" r="5.21"/><circle cx="1511.5" cy="1132.5" r="5.21"/></g>
<rect class="sp" x="992" y="1037" width="564" height="671"/>
</g>
<g id="ax5">
<clipPath id="c5"><rect x="1747.3" y="1037.41" width="563.45" height="671"/></clipPath>
<g class="g" clip-path="url(#c5)"><line x1="1759.5" y1="1708.41" x2="1759.5" y2="1037.41"/><line x1="1901.5" y1="1708.41" x2="1901.5" y2="1037.41"/><line x1="2043.5" y1="1708.41" x2="2043.5" y2="1037.41"/><line x1="2186.5" y1="1708.41" x2="2186.5" y2="1037.41"/><line x1="1747.3" y1="1078.5" x2="2310.75" y2="1078.5"/><line x1="1747.3" y1="1165.5" x2="2310.75" y2="1165.5"/><line x1="1747.3" y1="1253.5" x2="2310.75" y2="1253.5"/><line x1="1747.3" y1="1341.5" x2="2310.75" y2="1341.5"/><line x1="1747.3" y1="1429.5" x2="2310.75" y2="1429.5"/><line x1="1747.3" y1="1517.5" x2="2310.75" y2="1517.5"/><line x1="1747.3" y1="1605.5" x2="2310.75" y2="1605.5"/><line x1="1747.3" y1="1693.5" x2="2310.75" y2="1693.5"/></g>
<g class="m" clip-path="url(#c5)"><circle cx="1757.5" cy="1239.5" r="5.21"/><circle cx="1761.5" cy="1341.5" r="5.21"/><circle cx="1766.5" cy="1418.5" r="5.21"/><circle cx="1770.5" cy="1477.5" r="5.21"/><circle cx="1774.5" cy="1521.5" r="5.21"/><circle cx="1778.5" cy="1556.5" r="5.21"/><circle cx="1782.5" cy="1583.5" r="5.21"/><circle cx="1786.5" cy="1604.5" r="5.21"/><circle cx="1790.5" cy="1620.5" r="5.21"/><circle cx="1794.5" cy="1632.5" r="5.21"/><circle cx="1797.5" cy="1640.5" r="5.21"/><circle cx="1799.5" cy="1643.5" r="5.21"/><circle cx="1800.5" cy="1645.5" r="5.21"/><circle cx="1802.5" cy="1647.5" r="5.21"/><circle cx="1803.5" cy="1649.5" r="5.21"/><circle cx="1804.5" cy="1651.5" r="5.21"/><circle cx="1806.5" cy="1653.5" r="5.21"/><circle cx="1807.5" cy="1654.5" r="5.21"/><circle cx="1808.5" cy="1655.5" r="5.21"/><circle cx="1810.5" cy="1656.5" r="5.21"/><circle cx="1811.5" cy="1657.5" r="5.21"/><circle cx="1812.5" cy="1657.5" r="5.21"/><circle cx="1814.5" cy="1658.5" r="5.21"/><circle cx="1815.5" cy="1658.5" r="5.21"/><circle cx="1816.5" cy="1659.5" r="5.21"/><circle cx="1818.5" cy="1659.5" r="5.21"/><circle cx="1819.5" cy="1659.5" r="5.21"/><circle cx="1820.5" cy="1659.5" r="5.21"/><circle cx="1822.5" cy="1658.5" r="5.21"/><circle cx="1823.5" cy="1658.5" r="5.21"/><circle cx="1824.5" cy="1658.5" r="5.21"/><circle cx="1826.5" cy="1657.5" r="5.21"/><circle cx="1827.5" cy="1657.5" r="5.21"/><circle cx="1828.5" cy="1656.5" r="5.21"/><circle cx="1830.5" cy="1655.5" r="5.21"/><circle cx="1831.5" cy="1654.5" r="5.21"/><circle cx="1833.5" cy="1653.5" r="5.21"/><circle cx="1834.5" cy="1652.5" r="5.21"/><circle cx="1835.5" cy="1651.5" r="5.21"/><circle cx="1837.5" cy="1650.5" r="5.21"/><circle cx="1838.5" cy="1648.5" r="5.21"/><circle cx="1842.5" cy="1644.5" r="5.21"/><circle cx="1846.5" cy="1639.5" r="5.21"/><circle cx="1850.5" cy="1634.5" r="5.21"/><circle cx="1854.5" cy="1628.5" r="5.21"/><circle cx="1858.5" cy="1621.5" r="5.21"/><circle cx="1862.5" cy="1615.5" r="5.21"/><circle cx="1866.5" cy="1607.5" r="5.21"/><circle cx="1870.5" cy="1600.5" r="5.21"/><circle cx="1874.5" cy="1592.5" r="5.21"/><circle cx="1878.5" cy="1585.5" r="5.21"/><circle cx="1882.5" cy="1577.5" r="5.21"/><circle cx="1886.5" cy="1568.5" r="5.21"/><circle cx="1890.5" cy="1559.5" r="5.21"/><circle cx="1895.5" cy="1551.5" r="5.21"/><circle cx="1899.5" cy="1541.5" r="5.21"/><circle cx="1903.5" cy="1532.5" r="5.21"/><circle cx="1907.5" cy="1522.5" r="5.21"/><circle cx="1911.5" cy="1513.5" r="5.21"/><circle cx="1915.5" cy="1503.5" r="5.21"/><circle cx="1919.5" cy="1493.5" r="5.21"/><circle cx="1923.5" cy="1484.5" r="5.21"/><circle cx="1927.5" cy="1474.5" r="5.21"/><circle cx="1931.5" cy="1464.5" r="5.21"/><circle cx="1935.5" cy="1455.5" r="5.21"/><circle cx="1939.5" cy="1445.5" r="5.21"/><circle cx="1943.5" cy="1436.5" r="5.21"/><circle cx="1947.5" cy="1427.5" r="5.21"/><circle cx="1951.5" cy="1418.5" r="5.21"/><circle cx="1955.5" cy="1409.5" r="5.21"/><circle cx="1959.5" cy="1400.5" r="5.21"/><circle cx="1963.5" cy="1390.5" r="5.21"/><circle cx="1967.5" cy="1381.5" r="5.21"/><circle cx="1971.5" cy="1372.5" r="5.21"/><circle cx="1975.5" cy="1363.5" r="5.21"/><circle cx="1979.5" cy="1355.5" r="5.21"/><circle cx="1984.5" cy="1347.5" r="5.21"/><circle cx="1988.5" cy="1339.5" r="5.21"/><circle cx="1992.5" cy="1331.5" r="5.21"/><circle cx="1996.5" cy="1322.5" r="5.21"/><circle cx="2000.5" cy="1314.5" r="5.21"/><circle cx="2004.5" cy="1305.5" r="5.21"/><circle cx="2008.5" cy="1297.5" r="5.21"/><circle cx="2012.5" cy="1288.5" r="5.21"/><circle cx="2016.5" cy="1280.5" r="5.21"/><circle cx="2020.5" cy="1271.5" r="5.21"/><circle cx="2024.5" cy="1262.5" r="5.21"/><circle cx="2028.5" cy="1254.5" r="5.21"/><circle cx="2032.5" cy="1245.5" r="5.21"/><circle cx="2036.5" cy="1237.5" r="5.21"/><circle cx="2040.5" cy="1229.5" r="5.21"/><circle cx="2044.5" cy="1221.5" r="5.21"/><circle cx="2048.5" cy="1213.5" r="5.21"/><circle cx="2052.5" cy="1205.5" r="5.21"/><circle cx="2056.5" cy="1197.5" r="5.21"/><circle cx="2060.5" cy="1190.5" r="5.21"/><circle cx="2064.5" cy="1182.5" r="5.21"/><circle cx="2068.5" cy="1174.5" r="5.21"/><circle cx="2072.5" cy="1167.5" r="5.21"/><circle cx="2077.5" cy="1159.5" r="5.21"/><circle cx="2081.5" cy="1152.5" r="5.21"/><circle cx="2085.5" cy="1145.5" r="5.21"/><circle cx="2089.5" cy="1138.5" r="5.21"/><circle cx="2093.5" cy="1131.5" r="5.21"/><circle cx="2097.5" cy="1125.5" r="5.21"/><circle cx="2101.5" cy="1118.5" r="5.21"/><circle cx="2105.5" cy="1112.5" r="5.21"/><circle cx="2109.5" cy="1106.5" r="5.21"/><circle cx="2113.5" cy="1100.5" r="5.21"/><circle cx="2117.5" cy="1094.5" r="5.21"/></g>
<rect class="sp" x="1747" y="1037" width="563" height="671"/>
</g>
<g id="ax6">
<clipPath id="c6"><rect x="238.3" y="1885.37" width="563.45" height="671"/></clipPath>
<g class="g" clip-path="url(#c6)"><line x1="250.5" y1="2556.37" x2="250.5" y2="1885.37"/><line x1="392.5" y1="2556.37" x2="392.5" y2="1885.37"/><line x1="534.5" y1="2556.37" x2="534.5" y2="1885.37"/><line x1="677.5" y1="2556.37" x2="677.5" y2="1885.37"/><line x1="238.3" y1="1925.5" x2="801.75" y2="1925.5"/><line x1="238.3" y1="2013.5" x2="801.75" y2="2013.5"/><line x1="238.3" y1="2101.5" x2="801.75" y2="2101.5"/><line x1="238.3" y1="2189.5" x2="801.75" y2="2189.5"/><line x1="238.3" y1="2277.5" x2="801.75" y2="2277.5"/><line x1="238.3" y1="2365.5" x2="801.75" y2="2365.5"/><line x1="238.3" y1="2453.5" x2="801.75" y2="2453.5"/><line x1="238.3" y1="2541.5" x2="801.75" y2="2541.5"/></g>
<g class="m" clip-path="url(#c6)"><circle cx="246.5" cy="1990.5" r="5.21"/><circle cx="250.5" cy="2124.5" r="5.21"/><circle cx="254.5" cy="2223.5" r="5.21"/><circle cx="258.5" cy="2296.5" r="5.21"/><circle cx="262.5" cy="2350.5" r="5.21"/><circle cx="266.5" cy="2390.5" r="5.21"/><circle cx="270.5" cy="2420.5" r="5.21"/><circle cx="274.5" cy="2442.5" r="5.21"/><circle cx="278.5" cy="2459.5" r="5.21"/><circle cx="282.5" cy="2471.5" r="5.21"/><circle cx="286.5" cy="2481.5" r="5.21"/><circle cx="287.5" cy="2484.5" r="5.21"/><circle cx="288.5" cy="2486.5" r="5.21"/><circle cx="290.5" cy="2488.5" r="5.21"/><circle cx="291.5" cy="2490.5" r="5.21"/><circle cx="292.5" cy="2492.5" r="5.21"/><circle cx="294.5" cy="2493.5" r="5.21"/><circle cx="295.5" cy="2495.5" r="5.21"/><circle cx="296.5" cy="2496.5" r="5.21"/><circle cx="298.5" cy="2497.5" r="5.21"/><circle cx="299.5" cy="2497.5" r="5.21"/><circle cx="300.5" cy="2498.5" r="5.21"/><circle cx="302.5" cy="2499.5" r="5.21"/><circle cx="303.5" cy="2499.5" r="5.21"/><circle cx="304.5" cy="2499.5" r="5.21"/><circle cx="306.5" cy="2499.5" r="5.21"/><circle cx="307.5" cy="2499.5" r="5.21"/><circle cx="308.5" cy="2499.5" r="5.21"/><circle cx="310.5" cy="2499.5" r="5.21"/><circle cx="311.5" cy="2499.5" r="5.21"/><circle cx="312.5" cy="2498.5" r="5.21"/><circle cx="314.5" cy="2498.5" r="5.21"/><circle cx="315.5" cy="2497.5" r="5.21"/><circle cx="316.5" cy="2496.5" r="5.21"/><circle cx="318.5" cy="2495.5" r="5.21"/><circle cx="319.5" cy="2495.5" r="5.21"/><circle cx="320.5" cy="2494.5" r="5.21"/><circle cx="321.5" cy="2492.5" r="5.21"/><circle cx="323.5" cy="2491.5" r="5.21"/><circle cx="324.5" cy="2490.5" r="5.21"/><circle cx="325.5" cy="2489.5" r="5.21"/><circle cx="329.5" cy="2484.5" r="5.21"/><circle cx="333.5" cy="2478.5" r="5.21"/><circle cx="337.5" cy="2473.5" r="5.21"/><circle cx="341.5" cy="2467.5" r="5.21"/><circle cx="345.5" cy="2460.5" r="5.21"/><circle cx="349.5" cy="2452.5" r="5.21"/><circle cx="353.5" cy="2445.5" r="5.21"/><circle cx="357.5" cy="2437.5" r="5.21"/><circle cx="361.5" cy="2429.5" r="5.21"/><circle cx="365.5" cy="2421.5" r="5.21"/><circle cx="369.5" cy="2414.5" r="5.21"/><circle cx="373.5" cy="2406.5" r="5.21"/><circle cx="377.5" cy="2397.5" r="5.21"/><circle cx="381.5" cy="2389.5" r="5.21"/><circle cx="385.5" cy="2380.5" r="5.21"/><circle cx="389.5" cy="2371.5" r="5.21"/><circle cx="393.5" cy="2361.5" r="5.21"/><circle cx="397.5" cy="2350.5" r="5.21"/><circle cx="401.5" cy="2340.5" r="5.21"/><circle cx="405.5" cy="2331.5" r="5.21"/><circle cx="409.5" cy="2322.5" r="5.21"/><circle cx="413.5" cy="2313.5" r="5.21"/><circle cx="417.5" cy="2304.5" r="5.21"/><circle cx="421.5" cy="2294.5" r="5.21"/><circle cx="425.5" cy="2284.5" r="5.21"/><circle cx="429.5" cy="2275.5" r="5.21"/><circle cx="433.5" cy="2265.5" r="5.21"/><circle cx="437.5" cy="2255.5" r="5.21"/><circle cx="441.5" cy="2245.5" r="5.21"/><circle cx="445.5" cy="2235.5" r="5.21"/><circle cx="449.5" cy="2226.5" r="5.21"/><circle cx="453.5" cy="2216.5" r="5.21"/><circle cx="457.5" cy="2207.5" r="5.21"/><circle cx="461.5" cy="2197.5" r="5.21"/><circle cx="465.5" cy="2188.5" r="5.21"/><circle cx="469.5" cy="2178.5" r="5.21"/><circle cx="473.5" cy="2169.5" r="5.21"/><circle cx="477.5" cy="2160.5" r="5.21"/><circle cx="481.5" cy="2152.5" r="5.21"/><circle cx="484.5" cy="2143.5" r="5.21"/><circle cx="488.5" cy="2135.5" r="5.21"/><circle cx="492.5" cy="2127.5" r="5.21"/><circle cx="496.5" cy="2119.5" r="5.21"/><circle cx="500.5" cy="2111.5" r="5.21"/><circle cx="504.5" cy="2102.5" r="5.21"/><circle cx="508.5" cy="2094.5" r="5.21"/><circle cx="512.5" cy="2087.5" r="5.21"/><circle cx="516.5" cy="2079.5" r="5.21"/><circle cx="520.5" cy="2071.5" r="5.21"/><circle cx="524.5" cy="2064.5" r="5.21"/><circle cx="528.5" cy="2056.5" r="5.21"/><circle cx="532.5" cy="2049.5" r="5.21"/><circle cx="536.5" cy="2041.5" r="5.21"/><circle cx="540.5" cy="2033.5" r="5.21"/><circle cx="544.5" cy="2025.5" r="5.21"/><circle cx="548.5" cy="2017.5" r="5.21"/><circle cx="552.5" cy="2009.5" r="5.21"/><circle cx="556.5" cy="2001.5" r="5.21"/><circle cx="560.5" cy="1993.5" r="5.21"/><circle cx="564.5" cy="1986.5" r="5.21"/><circle cx="568.5" cy="1979.5" r="5.21"/><circle cx="572.5" cy="1972.5" r="5.21"/><circle cx="576.5" cy="1964.5" r="5.21"/><circle cx="580.5" cy="1957.5" r="5.21"/><circle cx="584.5" cy="1950.5" r="5.21"/><circle cx="588.5" cy="1943.5" r="5.21"/><circle cx="592.5" cy="1936.5" r="5.21"/><circle cx="596.5" cy="1928.5" r="5.21"/><circle cx="600.5" cy="1921.5" r="5.21"/></g>
<rect class="sp" x="238" y="1885" width="563" height="671"/>
</g>
<g id="ax7">
<clipPath id="c7"><rect x="992.8" y="1885.37" width="563.45" height="671"/></clipPath>
<g class="g" clip-path="url(#c7)"><line x1="1004.5" y1="2556.37" x2="1004.5" y2="1885.37"/><line x1="1147.5" y1="2556.37" x2="1147.5" y2="1885.37"/><line x1="1289.5" y1="2556.37" x2="1289.5" y2="1885.37"/><line x1="1431.5" y1="2556.37" x2="1431.5" y2="1885.37"/><line x1="992.8" y1="1925.5" x2="1556.25" y2="1925.5"/><line x1="992.8" y1="2013.5" x2="1556.25" y2="2013.5"/><line x1="992.8" y1="2101.5" x2="1556.25" y2="2101.5"/><line x1="992.8" y1="2189.5" x2="1556.25" y2="2189.5"/><line x1="992.8" y1="2277.5" x2="1556.25" y2="2277.5"/><line x1="992.8" y1="2365.5" x2="1556.25" y2="2365.5"/><line x1="992.8" y1="2453.5" x2="1556.25" y2="2453.5"/><line x1="992.8" y1="2541.5" x2="1556.25" y2="2541.5"/></g>
<g class="m" clip-path="url(#c7)"><circle cx="1003.5" cy="2081.5" r="5.21"/><circle cx="1007.5" cy="2180.5" r="5.21"/><circle cx="1011.5" cy="2257.5" r="5.21"/><circle cx="1015.5" cy="2316.5" r="5.21"/><circle cx="1019.5" cy="2362.5" r="5.21"/><circle cx="1023.5" cy="2398.5" r="5.21"/><circle cx="1027.5" cy="2426.5" r="5.21"/><circle cx="1031.5" cy="2447.5" r="5.21"/><circle cx="1035.5" cy="2464.5" r="5.21"/><circle cx="1039.5" cy="2478.5" r="5.21"/><circle cx="1043.5" cy="2488.5" r="5.21"/><circle cx="1045.5" cy="2491.5" r="5.21"/><circle cx="1046.5" cy="2494.5" r="5.21"/><circle cx="1047.5" cy="2496.5" r="5.21"/><circle cx="1049.5" cy="2498.5" r="5.21"/><circle cx="1050.5" cy="2500.5" r="5.21"/><circle cx="1051.5" cy="2501.5" r="5.21"/><circle cx="1053.5" cy="2503.5" r="5.21"/><circle cx="1054.5" cy="2504.5" r="5.21"/><circle cx="1055.5" cy="2505.5" r="5.21"/><circle cx="1057.5" cy="2506.5" r="5.21"/><circle cx="1058.5" cy="2506.5" r="5.21"/><circle cx="1059.5" cy="2507.5" r="5.21"/><circle cx="1061.5" cy="2507.5" r="5.21"/><circle cx="1062.5" cy="2507.5" r="5.21"/><circle cx="1064.5" cy="2507.5" r="5.21"/><circle cx="1065.5" cy="2507.5" r="5.21"/><circle cx="1066.5" cy="2507.5" r="5.21"/><circle cx="1068.5" cy="2507.5" r="5.21"/><circle cx="1069.5" cy="2506.5" r="5.21"/><circle cx="1070.5" cy="2506.5" r="5.21"/><circle cx="1072.5" cy="2505.5" r="5.21"/><circle cx="1073.5" cy="2505.5" r="5.21"/><circle cx="1074.5" cy="2504.5" r="5.21"/><circle cx="1076.5" cy="2503.5" r="5.21"/><circle cx="1077.5" cy="2502.5" r="5.21"/><circle cx="1078.5" cy="2501.5" r="5.21"/><circle cx="1080.5" cy="2500.5" r="5.21"/><circle cx="1081.5" cy="2499.5" r="5.21"/><circle cx="1082.5" cy="2498.5" r="5.21"/><circle cx="1084.5" cy="2496.5" r="5.21"/><circle cx="1088.5" cy="2492.5" r="5.21"/><circle cx="1092.5" cy="2487.5" r="5.21"/><circle cx="1096.5" cy="2482.5" r="5.21"/><circle cx="1100.5" cy="2476.5" r="5.21"/><circle cx="1104.5" cy="2470.5" r="5.21"/><circle cx="1108.5" cy="2463.5" r="5.21"/><circle cx="1112.5" cy="2456.5" r="5.21"/><circle cx="1116.5" cy="2449.5" r="5.21"/><circle cx="1120.5" cy="2442.5" r="5.21"/><circle cx="1124.5" cy="2434.5" r="5.21"/><circle cx="1128.5" cy="2426.5" r="5.21"/><circle cx="1132.5" cy="2417.5" r="5.21"/><circle cx="1136.5" cy="2408.5" r="5.21"/><circle cx="1140.5" cy="2398.5" r="5.21"/><circle cx="1144.5" cy="2390.5" r="5.21"/><circle cx="1148.5" cy="2381.5" r="5.21"/><circle cx="1152.5" cy="2371.5" r="5.21"/><circle cx="1156.5" cy="2361.5" r="5.21"/><circle cx="1160.5" cy="2352.5" r="5.21"/><circle cx="1164.5" cy="2342.5" r="5.21"/><circle cx="1168.5" cy="2332.5" r="5.21"/><circle cx="1172.5" cy="2322.5" r="5.21"/><circle cx="1176.5" cy="2313.5" r="5.21"/><circle cx="1180.5" cy="2303.5" r="5.21"/><circle cx="1185.5" cy="2294.5" r="5.21"/><circle cx="1189.5" cy="2285.5" r="5.21"/><circle cx="1193.5" cy="2277.5" r="5.21"/><circle cx="1197.5" cy="2268.5" r="5.21"/><circle cx="1201.5" cy="2259.5" r="5.21"/><circle cx="1205.5" cy="2250.5" r="5.21"/><circle cx="1209.5" cy="2241.5" r="5.21"/><circle cx="1213.5" cy="2232.5" r="5.21"/><circle cx="1217.5" cy="2223.5" r="5.21"/><circle cx="1221.5" cy="2214.5" r="5.21"/><circle cx="1225.5" cy="2205.5" r="5.21"/><circle cx="1229.5" cy="2196.5" r="5.21"/><circle cx="1233.5" cy="2187.5" r="5.21"/><circle cx="1237.5" cy="2178.5" r="5.21"/><circle cx="1241.5" cy="2170.5" r="5.21"/><circle cx="1245.5" cy="2161.5" r="5.21"/><circle cx="1249.5" cy="2153.5" r="5.21"/><circle cx="1253.5" cy="2144.5" r="5.21"/><circle cx="1257.5" cy="2136.5" r="5.21"/><circle cx="1261.5" cy="2128.5" r="5.21"/><circle cx="1265.5" cy="2119.5" r="5.21"/><circle cx="1269.5" cy="2111.5" r="5.21"/><circle cx="1273.5" cy="2102.5" r="5.21"/><circle cx="1277.5" cy="2094.5" r="5.21"/><circle cx="1281.5" cy="2086.5" r="5.21"/><circle cx="1285.5" cy="2078.5" r="5.21"/><circle cx="1289.5" cy="2070.5" r="5.21"/><circle cx="1293.5" cy="2062.5" r="5.21"/><circle cx="1297.5" cy="2054.5" r="5.21"/><circle cx="1301.5" cy="2047.5" r="5.21"/><circle cx="1305.5" cy="2040.5" r="5.21"/><circle cx="1310.5" cy="2033.5" r="5.21"/><circle cx="1314.5" cy="2027.5" r="5.21"/><circle cx="1318.5" cy="2020.5" r="5.21"/><circle cx="1322.5" cy="2013.5" r="5.21"/><circle cx="1326.5" cy="2007.5" r="5.21"/><circle cx="1330.5" cy="2000.5" r="5.21"/><circle cx="1334.5" cy="1993.5" r="5.21"/><circle cx="1338.5" cy="1986.5" r="5.21"/><circle cx="1342.5" cy="1980.5" r="5.21"/><circle cx="1346.5" cy="1973.5" r="5.21"/><circle cx="1350.5" cy="1967.5" r="5.21"/><circle cx="1354.5" cy="1961.5" r="5.21"/><circle cx="1358.5" cy="1954.5" r="5.21"/><circle cx="1362.5" cy="1948.5" r="5.21"/></g>
<rect class="sp" x="992" y="1885" width="564" height="671"/>
</g>
<g id="ax8">
<clipPath id="c8"><rect x="1747.3" y="1885.37" width="563.45" height="671"/></clipPath>
<g class="g" clip-path="url(#c8)"><line x1="1759.5" y1="2556.37" x2="1759.5" y2="1885.37"/><line x1="1901.5" y1="2556.37" x2="1901.5" y2="1885.37"/><line x1="2043.5" y1="2556.37" x2="2043.5" y2="1885.37"/><line x1="2186.5" y1="2556.37" x2="2186.5" y2="1885.37"/><line x1="1747.3" y1="1925.5" x2="2310.75" y2="1925.5"/><line x1="1747.3" y1="2013.5" x2="2310.75" y2="2013.5"/><line x1="1747.3" y1="2101.5" x2="2310.75" y2="2101.5"/><line x1="1747.3" y1="2189.5" x2="2310.75" y2="2189.5"/><line x1="1747.3" y1="2277.5" x2="2310.75" y2="2277.5"/><line x1="1747.3" y1="2365.5" x2="2310.75" y2="2365.5"/><line x1="1747.3" y1="2453.5" x2="2310.75" y2="2453.5"/><line x1="1747.3" y1="2541.5" x2="2310.75" y2="2541.5"/></g>
<g class="m" clip-path="url(#c8)"><circle cx="1754.5" cy="1973.5" r="5.21"/><circle cx="1758.5" cy="2105.5" r="5.21"/><circle cx="1762.5" cy="2203.5" r="5.21"/><circle cx="1766.5" cy="2277.5" r="5.21"/><circle cx="1770.5" cy="2333.5" r="5.21"/><circle cx="1774.5" cy="2376.5" r="5.21"/><circle cx="1778.5" cy="2410.5" r="5.21"/><circle cx="1782.5" cy="2435.5" r="5.21"/><circle cx="1786.5" cy="2454.5" r="5.21"/><circle cx="1790.5" cy="2469.5" r="5.21"/><circle cx="1793.5" cy="2478.5" r="5.21"/><circle cx="1795.5" cy="2481.5" r="5.21"/><circle cx="1796.5" cy="2484.5" r="5.21"/><circle cx="1797.5" cy="2486.5" r="5.21"/><circle cx="1799.5" cy="2489.5" r="5.21"/><circle cx="1800.5" cy="2491.5" r="5.21"/><circle cx="1801.5" cy="2492.5" r="5.21"/><circle cx="1803.5" cy="2494.5" r="5.21"/><circle cx="1804.5" cy="2495.5" r="5.21"/><circle cx="1805.5" cy="2496.5" r="5.21"/><circle cx="1807.5" cy="2497.5" r="5.21"/><circle cx="1808.5" cy="2498.5" r="5.21"/><circle cx="1809.5" cy="2498.5" r="5.21"/><circle cx="1810.5" cy="2499.5" r="5.21"/><circle cx="1812.5" cy="2499.5" r="5.21"/><circle cx="1813.5" cy="2499.5" r="5.21"/><circle cx="1814.5" cy="2499.5" r="5.21"/><circle cx="1816.5" cy="2499.5" r="5.21"/><circle cx="1817.5" cy="2499.5" r="5.21"/><circle cx="1818.5" cy="2499.5" r="5.21"/><circle cx="1820.5" cy="2498.5" r="5.21"/><circle cx="1821.5" cy="2498.5" r="5.21"/><circle cx="1822.5" cy="2497.5" r="5.21"/><circle cx="1824.5" cy="2496.5" r="5.21"/><circle cx="1825.5" cy="2496.5" r="5.21"/><circle cx="1826.5" cy="2495.5" r="5.21"/><circle cx="1828.5" cy="2494.5" r="5.21"/><circle cx="1829.5" cy="2493.5" r="5.21"/><circle cx="1830.5" cy="2492.5" r="5.21"/><circle cx="1832.5" cy="2491.5" r="5.21"/><circle cx="1833.5" cy="2490.5" r="5.21"/><circle cx="1837.5" cy="2486.5" r="5.21"/><circle cx="1841.5" cy="2481.5" r="5.21"/><circle cx="1845.5" cy="2476.5" r="5.21"/><circle cx="1849.5" cy="2470.5" r="5.21"/><circle cx="1853.5" cy="2464.5" r="5.21"/><circle cx="1857.5" cy="2458.5" r="5.21"/><circle cx="1860.5" cy="2451.5" r="5.21"/><circle cx="1864.5" cy="2444.5" r="5.21"/><circle cx="1868.5" cy="2436.5" r="5.21"/><circle cx="1872.5" cy="2426.5" r="5.21"/><circle cx="1876.5" cy="2418.5" r="5.21"/><circle cx="1880.5" cy="2410.5" r="5.21"/><circle cx="1884.5" cy="2402.5" r="5.21"/><circle cx="1888.5" cy="2393.5" r="5.21"/><circle cx="1892.5" cy="2384.5" r="5.21"/><circle cx="1896.5" cy="2374.5" r="5.21"/><circle cx="1900.5" cy="2365.5" r="5.21"/><circle cx="1904.5" cy="2355.5" r="5.21"/><circle cx="1908.5" cy="2345.5" r="5.21"/><circle cx="1912.5" cy="2335.5" r="5.21"/><circle cx="1916.5" cy="2325.5" r="5.21"/><circle cx="1920.5" cy="2315.5" r="5.21"/><circle cx="1924.5" cy="2305.5" r="5.21"/><circle cx="1927.5" cy="2294.5" r="5.21"/><circle cx="1931.5" cy="2284.5" r="5.21"/><circle cx="1935.5" cy="2274.5" r="5.21"/><circle cx="1939.5" cy="2263.5" r="5.21"/><circle cx="1943.5" cy="2253.5" r="5.21"/><circle cx="1947.5" cy="2243.5" r="5.21"/><circle cx="1951.5" cy="2233.5" r="5.21"/><circle cx="1955.5" cy="2223.5" r="5.21"/><circle cx="1959.5" cy="2214.5" r="5.21"/><circle cx="1963.5" cy="2204.5" r="5.21"/><circle cx="1967.5" cy="2196.5" r="5.21"/><circle cx="1971.5" cy="2187.5" r="5.21"/><circle cx="1975.5" cy="2179.5" r="5.21"/><circle cx="1979.5" cy="2170.5" r="5.21"/><circle cx="1983.5" cy="2162.5" r="5.21"/><circle cx="1987.5" cy="2154.5" r="5.21"/><circle cx="1991.5" cy="2146.5" r="5.21"/><circle cx="1995.5" cy="2139.5" r="5.21"/><circle cx="1998.5" cy="2131.5" r="5.21"/><circle cx="2002.5" cy="2124.5" r="5.21"/><circle cx="2006.5" cy="2116.5" r="5.21"/><circle cx="2010.5" cy="2108.5" r="5.21"/><circle cx="2014.5" cy="2101.5" r="5.21"/><circle cx="2018.5" cy="2093.5" r="5.21"/><circle cx="2022.5" cy="2086.5" r="5.21"/><circle cx="2026.5" cy="2078.5" r="5.21"/><circle cx="2030.5" cy="2071.5" r="5.21"/><circle cx="2034.5" cy="2064.5" r="5.21"/><circle cx="2038.5" cy="2057.5" r="5.21"/><circle cx="2042.5" cy="2050.5" r="5.21"/><circle cx="2046.5" cy="2043.5" r="5.21"/><circle cx="2050.5" cy="2036.5" r="5.21"/><circle cx="2054.5" cy="2029.5" r="5.21"/><circle cx="2058.5" cy="2022.5" r="5.21"/><circle cx="2062.5" cy="2015.5" r="5.21"/><circle cx="2066.5" cy="2008.5" r="5.21"/><circle cx="2069.5" cy="2000.5" r="5.21"/><circle cx="2073.5" cy="1992.5" r="5.21"/><circle cx="2077.5" cy="1985.5" r="5.21"/><circle cx="2081.5" cy="1977.5" r="5.21"/><circle cx="2085.5" cy="1970.5" r="5.21"/><circle cx="2089.5" cy="1962.5" r="5.21"/><circle cx="2093.5" cy="1955.5" r="5.21"/><circle cx="2097.5" cy="1948.5" r="5.21"/><circle cx="2101.5" cy="1941.5" r="5.21"/><circle cx="2105.5" cy="1934.5" r="5.21"/></g>
<rect class="sp" x="1747" y="1885" width="563" height="671"/>
</g>
<g id="ax9">
<clipPath id="c9"><rect x="238.3" y="2733.33" width="563.45" height="671"/></clipPath>
<g class="g" clip-path="url(#c9)"><line x1="250.5" y1="3404.33" x2="250.5" y2="2733.33"/><line x1="392.5" y1="3404.33" x2="392.5" y2="2733.33"/><line x1="534.5" y1="3404.33" x2="534.5" y2="2733.33"/><line x1="677.5" y1="3404.33" x2="677.5" y2="2733.33"/><line x1="238.3" y1="2773.5" x2="801.75" y2="2773.5"/><line x1="238.3" y1="2861.5" x2="801.75" y2="2861.5"/><line x1="238.3" y1="2949.5" x2="801.75" y2="2949.5"/><line x1="238.3" y1="3037.5" x2="801.75" y2="3037.5"/><line x1="238.3" y1="3125.5" x2="801.75" y2="3125.5"/><line x1="238.3" y1="3213.5" x2="801.75" y2="3213.5"/><line x1="238.3" y1="3301.5" x2="801.75" y2="3301.5"/><line x1="238.3" y1="3389.5" x2="801.75" y2="3389.5"/></g>
<g class="m" clip-path="url(#c9)"><circle cx="301.5" cy="3045.5" r="5.21"/><circle cx="307.5" cy="3100.5" r="5.21"/><circle cx="312.5" cy="3146.5" r="5.21"/><circle cx="318.5" cy="3185.5" r="5.21"/><circle cx="323.5" cy="3217.5" r="5.21"/><circle cx="329.5" cy="3245.5" r="5.21"/><circle cx="335.5" cy="3268.5" r="5.21"/><circle cx="340.5" cy="3288.5" r="5.21"/><circle cx="346.5" cy="3303.5" r="5.21"/><circle cx="351.5" cy="3316.5" r="5.21"/><circle cx="356.5" cy="3325.5" r="5.21"/><circle cx="358.5" cy="3328.5" r="5.21"/><circle cx="360.5" cy="3330.5" r="5.21"/><circle cx="362.5" cy="3332.5" r="5.21"/><circle cx="364.5" cy="3334.5" r="5.21"/><circle cx="366.5" cy="3336.5" r="5.21"/><circle cx="368.5" cy="3337.5" r="5.21"/><circle cx="369.5" cy="3339.5" r="5.21"/><circle cx="371.5" cy="3340.5" r="5.21"/><circle cx="373.5" cy="3341.5" r="5.21"/><circle cx="375.5" cy="3342.5" r="5.21"/><circle cx="377.5" cy="3342.5" r="5.21"/><circle cx="379.5" cy="3343.5" r="5.21"/><circle cx="380.5" cy="3343.5" r="5.21"/><circle cx="382.5" cy="3343.5" r="5.21"/><circle cx="384.5" cy="3343.5" r="5.21"/><circle cx="386.5" cy="3343.5" r="5.21"/><circle cx="388.5" cy="3343.5" r="5.21"/><circle cx="390.5" cy="3343.5" r="5.21"/><circle cx="392.5" cy="3342.5" r="5.21"/><circle cx="393.5" cy="3342.5" r="5.21"/><circle cx="395.5" cy="3341.5" r="5.21"/><circle cx="397.5" cy="3341.5" r="5.21"/><circle cx="399.5" cy="3340.5" r="5.21"/><circle cx="401.5" cy="3339.5" r="5.21"/><circle cx="403.5" cy="3338.5" r="5.21"/><circle cx="404.5" cy="3337.5" r="5.21"/><circle cx="406.5" cy="3336.5" r="5.21"/><circle cx="408.5" cy="3335.5" r="5.21"/><circle cx="410.5" cy="3333.5" r="5.21"/><circle cx="412.5" cy="3332.5" r="5.21"/><circle cx="417.5" cy="3328.5" r="5.21"/><circle cx="423.5" cy="3323.5" r="5.21"/><circle cx="428.5" cy="3317.5" r="5.21"/><circle cx="434.5" cy="3311.5" r="5.21"/><circle cx="439.5" cy="3305.5" r="5.21"/><circle cx="445.5" cy="3298.5" r="5.21"/><circle cx="451.5" cy="3290.5" r="5.21"/><circle cx="456.5" cy="3283.5" r="5.21"/><circle cx="462.5" cy="3275.5" r="5.21"/><circle cx="467.5" cy="3267.5" r="5.21"/><circle cx="473.5" cy="3259.5" r="5.21"/><circle cx="478.5" cy="3251.5" r="5.21"/><circle cx="484.5" cy="3242.5" r="5.21"/><circle cx="489.5" cy="3233.5" r="5.21"/><circle cx="495.5" cy="3224.5" r="5.21"/><circle cx="500.5" cy="3215.5" r="5.21"/><circle cx="506.5" cy="3206.5" r="5.21"/><circle cx="511.5" cy="3197.5" r="5.21"/><circle cx="517.5" cy="3188.5" r="5.21"/><circle cx="523.5" cy="3180.5" r="5.21"/><circle cx="528.5" cy="3171.5" r="5.21"/><circle cx="534.5" cy="3162.5" r="5.21"/><circle cx="539.5" cy="3153.5" r="5.21"/><circle cx="545.5" cy="3145.5" r="5.21"/><circle cx="550.5" cy="3136.5" r="5.21"/><circle cx="556.5" cy="3128.5" r="5.21"/><circle cx="561.5" cy="3120.5" r="5.21"/><circle cx="567.5" cy="3111.5" r="5.21"/><circle cx="572.5" cy="3103.5" r="5.21"/><circle cx="578.5" cy="3094.5" r="5.21"/><circle cx="583.5" cy="3086.5" r="5.21"/><circle cx="589.5" cy="3077.5" r="5.21"/><circle cx="595.5" cy="3069.5" r="5.21"/><circle cx="600.5" cy="3061.5" r="5.21"/><circle cx="606.5" cy="3053.5" r="5.21"/><circle cx="611.5" cy="3044.5" r="5.21"/><circle cx="617.5" cy="3036.5" r="5.21"/><circle cx="622.5" cy="3029.5" r="5.21"/><circle cx="628.5" cy="3021.5" r="5.21"/><circle cx="633.5" cy="3013.5" r="5.21"/><circle cx="639.5" cy="3006.5" r="5.21"/><circle cx="644.5" cy="2999.5" r="5.21"/><circle cx="650.5" cy="2992.5" r="5.21"/><circle cx="655.5" cy="2984.5" r="5.21"/><circle cx="661.5" cy="2977.5" r="5.21"/><circle cx="667.5" cy="2970.5" r="5.21"/><circle cx="672.5" cy="2963.5" r="5.21"/><circle cx="678.5" cy="2956.5" r="5.21"/><circle cx="683.5" cy="2949.5" r="5.21"/><circle cx="689.5" cy="2942.5" r="5.21"/><circle cx="694.5" cy="2935.5" r="5.21"/><circle cx="700.5" cy="2928.5" r="5.21"/><circle cx="705.5" cy="2921.5" r="5.21"/><circle cx="711.5" cy="2914.5" r="5.21"/><circle cx="716.5" cy="2907.5" r="5.21"/><circle cx="722.5" cy="2901.5" r="5.21"/><circle cx="727.5" cy="2894.5" r="5.21"/><circle cx="733.5" cy="2888.5" r="5.21"/><circle cx="739.5" cy="2881.5" r="5.21"/><circle cx="744.5" cy="2875.5" r="5.21"/><circle cx="750.5" cy="2869.5" r="5.21"/><circle cx="755.5" cy="2862.5" r="5.21"/><circle cx="761.5" cy="2856.5" r="5.21"/><circle cx="766.5" cy="2850.5" r="5.21"/><circle cx="772.5" cy="2843.5" r="5.21"/><circle cx="777.5" cy="2837.5" r="5.21"/><circle cx="783.5" cy="2831.5" r="5.21"/><circle cx="788.5" cy="2825.5" r="5.21"/><circle cx="794.5" cy="2819.5" r="5.21"/></g>
<rect class="sp" x="238" y="2733" width="563" height="671"/>
</g>
<g id="ax10">
<clipPath id="c10"><rect x="992.8" y="2733.33" width="563.45" height="671"/></clipPath>
<g class="g" clip-path="url(#c10)"><line x1="992.5" y1="3404.33" x2="992.5" y2="2733.33"/><line x1="1133.5" y1="3404.33" x2="1133.5" y2="2733.33"/><line x1="1274.5" y1="3404.33" x2="1274.5" y2="2733.33"/><line x1="1415.5" y1="3404.33" x2="1415.5" y2="2733.33"/><line x1="1556.5" y1="3404.33" x2="1556.5" y2="2733.33"/><line x1="992.8" y1="2733.5" x2="1556.25" y2="2733.5"/><line x1="992.8" y1="2867.5" x2="1556.25" y2="2867.5"/><line x1="992.8" y1="3001.5" x2="1556.25" y2="3001.5"/><line x1="992.8" y1="3135.5" x2="1556.25" y2="3135.5"/><line x1="992.8" y1="3270.5" x2="1556.25" y2="3270.5"/><line x1="992.8" y1="3404.5" x2="1556.25" y2="3404.5"/></g>
<rect class="sp" x="992" y="2733" width="564" height="671"/>
</g>
<g id="ax11">
<clipPath id="c11"><rect x="1747.3" y="2733.33" width="563.45" height="671"/></clipPath>
<g class="g" clip-path="url(#c11)"><line x1="1747.5" y1="3404.33" x2="1747.5" y2="2733.33"/><line x1="1888.5" y1="3404.33" x2="1888.5" y2="2733.33"/><line x1="2029.5" y1="3404.33" x2="2029.5" y2="2733.33"/><line x1="2169.5" y1="3404.33" x2="2169.5" y2="2733.33"/><line x1="2310.5" y1="3404.33" x2="2310.5" y2="2733.33"/><line x1="1747.3" y1="2733.5" x2="2310.75" y2="2733.5"/><line x1="1747.3" y1="2867.5" x2="2310.75" y2="2867.5"/><line x1="1747.3" y1="3001.5" x2="2310.75" y2="3001.5"/><line x1="1747.3" y1="3135.5" x2="2310.75" y2="3135.5"/><line x1="1747.3" y1="3270.5" x2="2310.75" y2="3270.5"/><line x1="1747.3" y1="3404.5" x2="2310.75" y2="3404.5"/></g>
<rect class="sp" x="1747" y="2733" width="563" height="671"/>
</g>
<g id="labels" style="filter:grayscale(1)">
<text x="224.28" y="925.55" font-size="44.2" textLength="51.32" lengthAdjust="spacingAndGlyphs">20</text>
<text x="367.34" y="925.55" font-size="44.2" textLength="51.07" lengthAdjust="spacingAndGlyphs">40</text>
<text x="508.78" y="925.55" font-size="44.2" textLength="51.5" lengthAdjust="spacingAndGlyphs">60</text>
<text x="651.39" y="925.55" font-size="44.2" textLength="51.22" lengthAdjust="spacingAndGlyphs">80</text>
<text y="244.7" font-size="44.2"><tspan x="76.75" textLength="31.35" lengthAdjust="spacingAndGlyphs">−</tspan><tspan x="110.92" textLength="90.81" lengthAdjust="spacingAndGlyphs">1.50</tspan></text>
<text y="331.7" font-size="44.2"><tspan x="77.62" textLength="31.35" lengthAdjust="spacingAndGlyphs">−</tspan><tspan x="111.82" textLength="90.02" lengthAdjust="spacingAndGlyphs">1.75</tspan></text>
<text y="419.7" font-size="44.2"><tspan x="76.75" textLength="31.35" lengthAdjust="spacingAndGlyphs">−</tspan><tspan x="110.59" textLength="91.14" lengthAdjust="spacingAndGlyphs">2.00</tspan></text>
<text y="507.7" font-size="44.2"><tspan x="77.62" textLength="31.35" lengthAdjust="spacingAndGlyphs">−</tspan><tspan x="111.48" textLength="90.37" lengthAdjust="spacingAndGlyphs">2.25</tspan></text>
<text y="595.7" font-size="44.2"><tspan x="76.75" textLength="31.35" lengthAdjust="spacingAndGlyphs">−</tspan><tspan x="110.59" textLength="91.14" lengthAdjust="spacingAndGlyphs">2.50</tspan></text>
<text y="683.7" font-size="44.2"><tspan x="77.62" textLength="31.35" lengthAdjust="spacingAndGlyphs">−</tspan><tspan x="111.48" textLength="90.37" lengthAdjust="spacingAndGlyphs">2.75</tspan></text>
<text y="771.7" font-size="44.2"><tspan x="76.75" textLength="31.35" lengthAdjust="spacingAndGlyphs">−</tspan><tspan x="111.3" textLength="90.42" lengthAdjust="spacingAndGlyphs">3.00</tspan></text>
<text y="859.7" font-size="44.2"><tspan x="77.62" textLength="31.35" lengthAdjust="spacingAndGlyphs">−</tspan><tspan x="112.19" textLength="89.65" lengthAdjust="spacingAndGlyphs">3.25</tspan></text>
<text y="164.95" font-size="43.6"><tspan x="238.5" textLength="14.04" lengthAdjust="spacingAndGlyphs">f</tspan><tspan x="252.59" textLength="21.5" lengthAdjust="spacingAndGlyphs">c</tspan><tspan x="275.49" textLength="21.5" lengthAdjust="spacingAndGlyphs">c</tspan></text>
<text transform="translate(49 705.45) rotate(-90)" y="0" font-size="43.6"><tspan x="-3.98" textLength="26.01" lengthAdjust="spacingAndGlyphs">E</tspan><tspan x="23.16" textLength="24.72" lengthAdjust="spacingAndGlyphs">n</tspan><tspan x="49.16" textLength="24.75" lengthAdjust="spacingAndGlyphs">e</tspan><tspan x="75.28" textLength="16.42" lengthAdjust="spacingAndGlyphs">r</tspan><tspan x="91.22" textLength="24.84" lengthAdjust="spacingAndGlyphs">g</tspan><tspan x="118.33" textLength="22.17" lengthAdjust="spacingAndGlyphs">y</tspan> <tspan x="155.76" textLength="12.79" lengthAdjust="spacingAndGlyphs">(</tspan><tspan x="171.77" textLength="24.75" lengthAdjust="spacingAndGlyphs">e</tspan><tspan x="196.81" textLength="28.59" lengthAdjust="spacingAndGlyphs">V</tspan><tspan x="225.76" textLength="13.25" lengthAdjust="spacingAndGlyphs">/</tspan><tspan x="239.59" textLength="22.17" lengthAdjust="spacingAndGlyphs">a</tspan><tspan x="265.94" textLength="14.05" lengthAdjust="spacingAndGlyphs">t</tspan><tspan x="281.76" textLength="24.51" lengthAdjust="spacingAndGlyphs">o</tspan><tspan x="308.01" textLength="38.28" lengthAdjust="spacingAndGlyphs">m</tspan><tspan x="350.01" textLength="12.79" lengthAdjust="spacingAndGlyphs">)</tspan></text>
<text x="978.78" y="925.55" font-size="44.2" textLength="51.32" lengthAdjust="spacingAndGlyphs">20</text>
<text x="1121.84" y="925.55" font-size="44.2" textLength="51.07" lengthAdjust="spacingAndGlyphs">40</text>
<text x="1263.28" y="925.55" font-size="44.2" textLength="51.5" lengthAdjust="spacingAndGlyphs">60</text>
<text x="1405.89" y="925.55" font-size="44.2" textLength="51.22" lengthAdjust="spacingAndGlyphs">80</text>
<text y="244.7" font-size="44.2"><tspan x="831.25" textLength="31.35" lengthAdjust="spacingAndGlyphs">−</tspan><tspan x="865.42" textLength="90.81" lengthAdjust="spacingAndGlyphs">1.50</tspan></text>
<text y="331.7" font-size="44.2"><tspan x="832.12" textLength="31.35" lengthAdjust="spacingAndGlyphs">−</tspan><tspan x="866.32" textLength="90.02" lengthAdjust="spacingAndGlyphs">1.75</tspan></text>
<text y="419.7" font-size="44.2"><tspan x="831.25" textLength="31.35" lengthAdjust="spacingAndGlyphs">−</tspan><tspan x="865.09" textLength="91.14" lengthAdjust="spacingAndGlyphs">2.00</tspan></text>
<text y="507.7" font-size="44.2"><tspan x="832.12" textLength="31.35" lengthAdjust="spacingAndGlyphs">−</tspan><tspan x="865.98" textLength="90.37" lengthAdjust="spacingAndGlyphs">2.25</tspan></text>
<text y="595.7" font-size="44.2"><tspan x="831.25" textLength="31.35" lengthAdjust="spacingAndGlyphs">−</tspan><tspan x="865.09" textLength="91.14" lengthAdjust="spacingAndGlyphs">2.50</tspan></text>
<text y="683.7" font-size="44.2"><tspan x="832.12" textLength="31.35" lengthAdjust="spacingAndGlyphs">−</tspan><tspan x="865.98" textLength="90.37" lengthAdjust="spacingAndGlyphs">2.75</tspan></text>
<text y="771.7" font-size="44.2"><tspan x="831.25" textLength="31.35" lengthAdjust="spacingAndGlyphs">−</tspan><tspan x="865.8" textLength="90.42" lengthAdjust="spacingAndGlyphs">3.00</tspan></text>
<text y="859.7" font-size="44.2"><tspan x="832.12" textLength="31.35" lengthAdjust="spacingAndGlyphs">−</tspan><tspan x="866.69" textLength="89.65" lengthAdjust="spacingAndGlyphs">3.25</tspan></text>
<text y="164.95" font-size="43.6"><tspan x="993.33" textLength="24.69" lengthAdjust="spacingAndGlyphs">b</tspan><tspan x="1019.05" textLength="21.14" lengthAdjust="spacingAndGlyphs">c</tspan><tspan x="1041.96" textLength="21.14" lengthAdjust="spacingAndGlyphs">c</tspan></text>
<text x="1733.28" y="925.55" font-size="44.2" textLength="51.32" lengthAdjust="spacingAndGlyphs">20</text>
<text x="1876.34" y="925.55" font-size="44.2" textLength="51.07" lengthAdjust="spacingAndGlyphs">40</text>
<text x="2017.78" y="925.55" font-size="44.2" textLength="51.5" lengthAdjust="spacingAndGlyphs">60</text>
<text x="2160.39" y="925.55" font-size="44.2" textLength="51.22" lengthAdjust="spacingAndGlyphs">80</text>
<text y="244.7" font-size="44.2"><tspan x="1585.75" textLength="31.35" lengthAdjust="spacingAndGlyphs">−</tspan><tspan x="1619.92" textLength="90.81" lengthAdjust="spacingAndGlyphs">1.50</tspan></text>
<text y="331.7" font-size="44.2"><tspan x="1586.62" textLength="31.35" lengthAdjust="spacingAndGlyphs">−</tspan><tspan x="1620.82" textLength="90.02" lengthAdjust="spacingAndGlyphs">1.75</tspan></text>
<text y="419.7" font-size="44.2"><tspan x="1585.75" textLength="31.35" lengthAdjust="spacingAndGlyphs">−</tspan><tspan x="1619.59" textLength="91.14" lengthAdjust="spacingAndGlyphs">2.00</tspan></text>
<text y="507.7" font-size="44.2"><tspan x="1586.62" textLength="31.35" lengthAdjust="spacingAndGlyphs">−</tspan><tspan x="1620.48" textLength="90.37" lengthAdjust="spacingAndGlyphs">2.25</tspan></text>
<text y="595.7" font-size="44.2"><tspan x="1585.75" textLength="31.35" lengthAdjust="spacingAndGlyphs">−</tspan><tspan x="1619.59" textLength="91.14" lengthAdjust="spacingAndGlyphs">2.50</tspan></text>
<text y="683.7" font-size="44.2"><tspan x="1586.62" textLength="31.35" lengthAdjust="spacingAndGlyphs">−</tspan><tspan x="1620.48" textLength="90.37" lengthAdjust="spacingAndGlyphs">2.75</tspan></text>
<text y="771.7" font-size="44.2"><tspan x="1585.75" textLength="31.35" lengthAdjust="spacingAndGlyphs">−</tspan><tspan x="1620.3" textLength="90.42" lengthAdjust="spacingAndGlyphs">3.00</tspan></text>
<text y="859.7" font-size="44.2"><tspan x="1586.62" textLength="31.35" lengthAdjust="spacingAndGlyphs">−</tspan><tspan x="1621.19" textLength="89.65" lengthAdjust="spacingAndGlyphs">3.25</tspan></text>
<text y="164.95" font-size="43.6"><tspan x="1747.47" textLength="24.91" lengthAdjust="spacingAndGlyphs">h</tspan><tspan x="1773.39" textLength="21.36" lengthAdjust="spacingAndGlyphs">c</tspan><tspan x="1797.02" textLength="24.94" lengthAdjust="spacingAndGlyphs">p</tspan></text>
<text x="224.28" y="1773.51" font-size="44.2" textLength="51.32" lengthAdjust="spacingAndGlyphs">20</text>
<text x="367.34" y="1773.51" font-size="44.2" textLength="51.07" lengthAdjust="spacingAndGlyphs">40</text>
<text x="508.78" y="1773.51" font-size="44.2" textLength="51.5" lengthAdjust="spacingAndGlyphs">60</text>
<text x="651.39" y="1773.51" font-size="44.2" textLength="51.22" lengthAdjust="spacingAndGlyphs">80</text>
<text y="1092.7" font-size="44.2"><tspan x="76.75" textLength="31.35" lengthAdjust="spacingAndGlyphs">−</tspan><tspan x="110.92" textLength="90.81" lengthAdjust="spacingAndGlyphs">1.50</tspan></text>
<text y="1179.7" font-size="44.2"><tspan x="77.62" textLength="31.35" lengthAdjust="spacingAndGlyphs">−</tspan><tspan x="111.82" textLength="90.02" lengthAdjust="spacingAndGlyphs">1.75</tspan></text>
<text y="1267.7" font-size="44.2"><tspan x="76.75" textLength="31.35" lengthAdjust="spacingAndGlyphs">−</tspan><tspan x="110.59" textLength="91.14" lengthAdjust="spacingAndGlyphs">2.00</tspan></text>
<text y="1355.7" font-size="44.2"><tspan x="77.62" textLength="31.35" lengthAdjust="spacingAndGlyphs">−</tspan><tspan x="111.48" textLength="90.37" lengthAdjust="spacingAndGlyphs">2.25</tspan></text>
<text y="1443.7" font-size="44.2"><tspan x="76.75" textLength="31.35" lengthAdjust="spacingAndGlyphs">−</tspan><tspan x="110.59" textLength="91.14" lengthAdjust="spacingAndGlyphs">2.50</tspan></text>
<text y="1531.7" font-size="44.2"><tspan x="77.62" textLength="31.35" lengthAdjust="spacingAndGlyphs">−</tspan><tspan x="111.48" textLength="90.37" lengthAdjust="spacingAndGlyphs">2.75</tspan></text>
<text y="1619.7" font-size="44.2"><tspan x="76.75" textLength="31.35" lengthAdjust="spacingAndGlyphs">−</tspan><tspan x="111.3" textLength="90.42" lengthAdjust="spacingAndGlyphs">3.00</tspan></text>
<text y="1707.7" font-size="44.2"><tspan x="77.62" textLength="31.35" lengthAdjust="spacingAndGlyphs">−</tspan><tspan x="112.19" textLength="89.65" lengthAdjust="spacingAndGlyphs">3.25</tspan></text>
<text y="1012.91" font-size="43.6"><tspan x="238.76" textLength="20.15" lengthAdjust="spacingAndGlyphs">s</tspan><tspan x="260.03" textLength="20.72" lengthAdjust="spacingAndGlyphs">c</tspan></text>
<text transform="translate(49 1553.41) rotate(-90)" y="0" font-size="43.6"><tspan x="-3.98" textLength="26.01" lengthAdjust="spacingAndGlyphs">E</tspan><tspan x="23.16" textLength="24.72" lengthAdjust="spacingAndGlyphs">n</tspan><tspan x="49.16" textLength="24.75" lengthAdjust="spacingAndGlyphs">e</tspan><tspan x="75.28" textLength="16.42" lengthAdjust="spacingAndGlyphs">r</tspan><tspan x="91.22" textLength="24.84" lengthAdjust="spacingAndGlyphs">g</tspan><tspan x="118.33" textLength="22.17" lengthAdjust="spacingAndGlyphs">y</tspan> <tspan x="155.76" textLength="12.79" lengthAdjust="spacingAndGlyphs">(</tspan><tspan x="171.77" textLength="24.75" lengthAdjust="spacingAndGlyphs">e</tspan><tspan x="196.81" textLength="28.59" lengthAdjust="spacingAndGlyphs">V</tspan><tspan x="225.76" textLength="13.25" lengthAdjust="spacingAndGlyphs">/</tspan><tspan x="239.59" textLength="22.17" lengthAdjust="spacingAndGlyphs">a</tspan><tspan x="265.94" textLength="14.05" lengthAdjust="spacingAndGlyphs">t</tspan><tspan x="281.76" textLength="24.51" lengthAdjust="spacingAndGlyphs">o</tspan><tspan x="308.01" textLength="38.28" lengthAdjust="spacingAndGlyphs">m</tspan><tspan x="350.01" textLength="12.79" lengthAdjust="spacingAndGlyphs">)</tspan></text>
<text x="978.78" y="1773.51" font-size="44.2" textLength="51.32" lengthAdjust="spacingAndGlyphs">20</text>
<text x="1121.84" y="1773.51" font-size="44.2" textLength="51.07" lengthAdjust="spacingAndGlyphs">40</text>
<text x="1263.28" y="1773.51" font-size="44.2" textLength="51.5" lengthAdjust="spacingAndGlyphs">60</text>
<text x="1405.89" y="1773.51" font-size="44.2" textLength="51.22" lengthAdjust="spacingAndGlyphs">80</text>
<text y="1092.7" font-size="44.2"><tspan x="831.25" textLength="31.35" lengthAdjust="spacingAndGlyphs">−</tspan><tspan x="865.42" textLength="90.81" lengthAdjust="spacingAndGlyphs">1.50</tspan></text>
<text y="1179.7" font-size="44.2"><tspan x="832.12" textLength="31.35" lengthAdjust="spacingAndGlyphs">−</tspan><tspan x="866.32" textLength="90.02" lengthAdjust="spacingAndGlyphs">1.75</tspan></text>
<text y="1267.7" font-size="44.2"><tspan x="831.25" textLength="31.35" lengthAdjust="spacingAndGlyphs">−</tspan><tspan x="865.09" textLength="91.14" lengthAdjust="spacingAndGlyphs">2.00</tspan></text>
<text y="1355.7" font-size="44.2"><tspan x="832.12" textLength="31.35" lengthAdjust="spacingAndGlyphs">−</tspan><tspan x="865.98" textLength="90.37" lengthAdjust="spacingAndGlyphs">2.25</tspan></text>
<text y="1443.7" font-size="44.2"><tspan x="831.25" textLength="31.35" lengthAdjust="spacingAndGlyphs">−</tspan><tspan x="865.09" textLength="91.14" lengthAdjust="spacingAndGlyphs">2.50</tspan></text>
<text y="1531.7" font-size="44.2"><tspan x="832.12" textLength="31.35" lengthAdjust="spacingAndGlyphs">−</tspan><tspan x="865.98" textLength="90.37" lengthAdjust="spacingAndGlyphs">2.75</tspan></text>
<text y="1619.7" font-size="44.2"><tspan x="831.25" textLength="31.35" lengthAdjust="spacingAndGlyphs">−</tspan><tspan x="865.8" textLength="90.42" lengthAdjust="spacingAndGlyphs">3.00</tspan></text>
<text y="1707.7" font-size="44.2"><tspan x="832.12" textLength="31.35" lengthAdjust="spacingAndGlyphs">−</tspan><tspan x="866.69" textLength="89.65" lengthAdjust="spacingAndGlyphs">3.25</tspan></text>
<text y="1012.91" font-size="43.6"><tspan x="992.71" textLength="24.94" lengthAdjust="spacingAndGlyphs">d</tspan><tspan x="1019.66" textLength="9.6" lengthAdjust="spacingAndGlyphs">i</tspan><tspan x="1030.37" textLength="22.26" lengthAdjust="spacingAndGlyphs">a</tspan><tspan x="1056.95" textLength="38.43" lengthAdjust="spacingAndGlyphs">m</tspan><tspan x="1096.8" textLength="24.62" lengthAdjust="spacingAndGlyphs">o</tspan><tspan x="1122.72" textLength="24.82" lengthAdjust="spacingAndGlyphs">n</tspan><tspan x="1148.76" textLength="24.94" lengthAdjust="spacingAndGlyphs">d</tspan></text>
<text x="1733.28" y="1773.51" font-size="44.2" textLength="51.32" lengthAdjust="spacingAndGlyphs">20</text>
<text x="1876.34" y="1773.51" font-size="44.2" textLength="51.07" lengthAdjust="spacingAndGlyphs">40</text>
<text x="2017.78" y="1773.51" font-size="44.2" textLength="51.5" lengthAdjust="spacingAndGlyphs">60</text>
<text x="2160.39" y="1773.51" font-size="44.2" textLength="51.22" lengthAdjust="spacingAndGlyphs">80</text>
<text y="1092.7" font-size="44.2"><tspan x="1585.75" textLength="31.35" lengthAdjust="spacingAndGlyphs">−</tspan><tspan x="1619.92" textLength="90.81" lengthAdjust="spacingAndGlyphs">1.50</tspan></text>
<text y="1179.7" font-size="44.2"><tspan x="1586.62" textLength="31.35" lengthAdjust="spacingAndGlyphs">−</tspan><tspan x="1620.82" textLength="90.02" lengthAdjust="spacingAndGlyphs">1.75</tspan></text>
<text y="1267.7" font-size="44.2"><tspan x="1585.75" textLength="31.35" lengthAdjust="spacingAndGlyphs">−</tspan><tspan x="1619.59" textLength="91.14" lengthAdjust="spacingAndGlyphs">2.00</tspan></text>
<text y="1355.7" font-size="44.2"><tspan x="1586.62" textLength="31.35" lengthAdjust="spacingAndGlyphs">−</tspan><tspan x="1620.48" textLength="90.37" lengthAdjust="spacingAndGlyphs">2.25</tspan></text>
<text y="1443.7" font-size="44.2"><tspan x="1585.75" textLength="31.35" lengthAdjust="spacingAndGlyphs">−</tspan><tspan x="1619.59" textLength="91.14" lengthAdjust="spacingAndGlyphs">2.50</tspan></text>
<text y="1531.7" font-size="44.2"><tspan x="1586.62" textLength="31.35" lengthAdjust="spacingAndGlyphs">−</tspan><tspan x="1620.48" textLength="90.37" lengthAdjust="spacingAndGlyphs">2.75</tspan></text>
<text y="1619.7" font-size="44.2"><tspan x="1585.75" textLength="31.35" lengthAdjust="spacingAndGlyphs">−</tspan><tspan x="1620.3" textLength="90.42" lengthAdjust="spacingAndGlyphs">3.00</tspan></text>
<text y="1707.7" font-size="44.2"><tspan x="1586.62" textLength="31.35" lengthAdjust="spacingAndGlyphs">−</tspan><tspan x="1621.19" textLength="89.65" lengthAdjust="spacingAndGlyphs">3.25</tspan></text>
<text y="1012.91" font-size="43.6"><tspan x="1747.21" textLength="31.17" lengthAdjust="spacingAndGlyphs">G</tspan><tspan x="1779.69" textLength="21.23" lengthAdjust="spacingAndGlyphs">a</tspan></text>
<text x="224.28" y="2621.47" font-size="44.2" textLength="51.32" lengthAdjust="spacingAndGlyphs">20</text>
<text x="367.34" y="2621.47" font-size="44.2" textLength="51.07" lengthAdjust="spacingAndGlyphs">40</text>
<text x="508.78" y="2621.47" font-size="44.2" textLength="51.5" lengthAdjust="spacingAndGlyphs">60</text>
<text x="651.39" y="2621.47" font-size="44.2" textLength="51.22" lengthAdjust="spacingAndGlyphs">80</text>
<text y="1939.7" font-size="44.2"><tspan x="76.75" textLength="31.35" lengthAdjust="spacingAndGlyphs">−</tspan><tspan x="110.92" textLength="90.81" lengthAdjust="spacingAndGlyphs">1.50</tspan></text>
<text y="2027.7" font-size="44.2"><tspan x="77.62" textLength="31.35" lengthAdjust="spacingAndGlyphs">−</tspan><tspan x="111.82" textLength="90.02" lengthAdjust="spacingAndGlyphs">1.75</tspan></text>
<text y="2115.7" font-size="44.2"><tspan x="76.75" textLength="31.35" lengthAdjust="spacingAndGlyphs">−</tspan><tspan x="110.59" textLength="91.14" lengthAdjust="spacingAndGlyphs">2.00</tspan></text>
<text y="2203.7" font-size="44.2"><tspan x="77.62" textLength="31.35" lengthAdjust="spacingAndGlyphs">−</tspan><tspan x="111.48" textLength="90.37" lengthAdjust="spacingAndGlyphs">2.25</tspan></text>
<text y="2291.7" font-size="44.2"><tspan x="76.75" textLength="31.35" lengthAdjust="spacingAndGlyphs">−</tspan><tspan x="110.59" textLength="91.14" lengthAdjust="spacingAndGlyphs">2.50</tspan></text>
<text y="2379.7" font-size="44.2"><tspan x="77.62" textLength="31.35" lengthAdjust="spacingAndGlyphs">−</tspan><tspan x="111.48" textLength="90.37" lengthAdjust="spacingAndGlyphs">2.75</tspan></text>
<text y="2467.7" font-size="44.2"><tspan x="76.75" textLength="31.35" lengthAdjust="spacingAndGlyphs">−</tspan><tspan x="111.3" textLength="90.42" lengthAdjust="spacingAndGlyphs">3.00</tspan></text>
<text y="2555.7" font-size="44.2"><tspan x="77.62" textLength="31.35" lengthAdjust="spacingAndGlyphs">−</tspan><tspan x="112.19" textLength="89.65" lengthAdjust="spacingAndGlyphs">3.25</tspan></text>
<text y="1860.87" font-size="43.6"><tspan x="237.68" textLength="12.32" lengthAdjust="spacingAndGlyphs">I</tspan><tspan x="250.81" textLength="24.95" lengthAdjust="spacingAndGlyphs">n</tspan></text>
<text transform="translate(49 2401.37) rotate(-90)" y="0" font-size="43.6"><tspan x="-3.98" textLength="26.01" lengthAdjust="spacingAndGlyphs">E</tspan><tspan x="23.16" textLength="24.72" lengthAdjust="spacingAndGlyphs">n</tspan><tspan x="49.16" textLength="24.75" lengthAdjust="spacingAndGlyphs">e</tspan><tspan x="75.28" textLength="16.42" lengthAdjust="spacingAndGlyphs">r</tspan><tspan x="91.22" textLength="24.84" lengthAdjust="spacingAndGlyphs">g</tspan><tspan x="118.33" textLength="22.17" lengthAdjust="spacingAndGlyphs">y</tspan> <tspan x="155.76" textLength="12.79" lengthAdjust="spacingAndGlyphs">(</tspan><tspan x="171.77" textLength="24.75" lengthAdjust="spacingAndGlyphs">e</tspan><tspan x="196.81" textLength="28.59" lengthAdjust="spacingAndGlyphs">V</tspan><tspan x="225.76" textLength="13.25" lengthAdjust="spacingAndGlyphs">/</tspan><tspan x="239.59" textLength="22.17" lengthAdjust="spacingAndGlyphs">a</tspan><tspan x="265.94" textLength="14.05" lengthAdjust="spacingAndGlyphs">t</tspan><tspan x="281.76" textLength="24.51" lengthAdjust="spacingAndGlyphs">o</tspan><tspan x="308.01" textLength="38.28" lengthAdjust="spacingAndGlyphs">m</tspan><tspan x="350.01" textLength="12.79" lengthAdjust="spacingAndGlyphs">)</tspan></text>
<text x="978.78" y="2621.47" font-size="44.2" textLength="51.32" lengthAdjust="spacingAndGlyphs">20</text>
<text x="1121.84" y="2621.47" font-size="44.2" textLength="51.07" lengthAdjust="spacingAndGlyphs">40</text>
<text x="1263.28" y="2621.47" font-size="44.2" textLength="51.5" lengthAdjust="spacingAndGlyphs">60</text>
<text x="1405.89" y="2621.47" font-size="44.2" textLength="51.22" lengthAdjust="spacingAndGlyphs">80</text>
<text y="1939.7" font-size="44.2"><tspan x="831.25" textLength="31.35" lengthAdjust="spacingAndGlyphs">−</tspan><tspan x="865.42" textLength="90.81" lengthAdjust="spacingAndGlyphs">1.50</tspan></text>
<text y="2027.7" font-size="44.2"><tspan x="832.12" textLength="31.35" lengthAdjust="spacingAndGlyphs">−</tspan><tspan x="866.32" textLength="90.02" lengthAdjust="spacingAndGlyphs">1.75</tspan></text>
<text y="2115.7" font-size="44.2"><tspan x="831.25" textLength="31.35" lengthAdjust="spacingAndGlyphs">−</tspan><tspan x="865.09" textLength="91.14" lengthAdjust="spacingAndGlyphs">2.00</tspan></text>
<text y="2203.7" font-size="44.2"><tspan x="832.12" textLength="31.35" lengthAdjust="spacingAndGlyphs">−</tspan><tspan x="865.98" textLength="90.37" lengthAdjust="spacingAndGlyphs">2.25</tspan></text>
<text y="2291.7" font-size="44.2"><tspan x="831.25" textLength="31.35" lengthAdjust="spacingAndGlyphs">−</tspan><tspan x="865.09" textLength="91.14" lengthAdjust="spacingAndGlyphs">2.50</tspan></text>
<text y="2379.7" font-size="44.2"><tspan x="832.12" textLength="31.35" lengthAdjust="spacingAndGlyphs">−</tspan><tspan x="865.98" textLength="90.37" lengthAdjust="spacingAndGlyphs">2.75</tspan></text>
<text y="2467.7" font-size="44.2"><tspan x="831.25" textLength="31.35" lengthAdjust="spacingAndGlyphs">−</tspan><tspan x="865.8" textLength="90.42" lengthAdjust="spacingAndGlyphs">3.00</tspan></text>
<text y="2555.7" font-size="44.2"><tspan x="832.12" textLength="31.35" lengthAdjust="spacingAndGlyphs">−</tspan><tspan x="866.69" textLength="89.65" lengthAdjust="spacingAndGlyphs">3.25</tspan></text>
<text y="1860.87" font-size="43.6"><tspan x="992.83" textLength="25.63" lengthAdjust="spacingAndGlyphs">S</tspan><tspan x="1019.96" textLength="23.96" lengthAdjust="spacingAndGlyphs">n</tspan></text>
<text x="1733.28" y="2621.47" font-size="44.2" textLength="51.32" lengthAdjust="spacingAndGlyphs">20</text>
<text x="1876.34" y="2621.47" font-size="44.2" textLength="51.07" lengthAdjust="spacingAndGlyphs">40</text>
<text x="2017.78" y="2621.47" font-size="44.2" textLength="51.5" lengthAdjust="spacingAndGlyphs">60</text>
<text x="2160.39" y="2621.47" font-size="44.2" textLength="51.22" lengthAdjust="spacingAndGlyphs">80</text>
<text y="1939.7" font-size="44.2"><tspan x="1585.75" textLength="31.35" lengthAdjust="spacingAndGlyphs">−</tspan><tspan x="1619.92" textLength="90.81" lengthAdjust="spacingAndGlyphs">1.50</tspan></text>
<text y="2027.7" font-size="44.2"><tspan x="1586.62" textLength="31.35" lengthAdjust="spacingAndGlyphs">−</tspan><tspan x="1620.82" textLength="90.02" lengthAdjust="spacingAndGlyphs">1.75</tspan></text>
<text y="2115.7" font-size="44.2"><tspan x="1585.75" textLength="31.35" lengthAdjust="spacingAndGlyphs">−</tspan><tspan x="1619.59" textLength="91.14" lengthAdjust="spacingAndGlyphs">2.00</tspan></text>
<text y="2203.7" font-size="44.2"><tspan x="1586.62" textLength="31.35" lengthAdjust="spacingAndGlyphs">−</tspan><tspan x="1620.48" textLength="90.37" lengthAdjust="spacingAndGlyphs">2.25</tspan></text>
<text y="2291.7" font-size="44.2"><tspan x="1585.75" textLength="31.35" lengthAdjust="spacingAndGlyphs">−</tspan><tspan x="1619.59" textLength="91.14" lengthAdjust="spacingAndGlyphs">2.50</tspan></text>
<text y="2379.7" font-size="44.2"><tspan x="1586.62" textLength="31.35" lengthAdjust="spacingAndGlyphs">−</tspan><tspan x="1620.48" textLength="90.37" lengthAdjust="spacingAndGlyphs">2.75</tspan></text>
<text y="2467.7" font-size="44.2"><tspan x="1585.75" textLength="31.35" lengthAdjust="spacingAndGlyphs">−</tspan><tspan x="1620.3" textLength="90.42" lengthAdjust="spacingAndGlyphs">3.00</tspan></text>
<text y="2555.7" font-size="44.2"><tspan x="1586.62" textLength="31.35" lengthAdjust="spacingAndGlyphs">−</tspan><tspan x="1621.19" textLength="89.65" lengthAdjust="spacingAndGlyphs">3.25</tspan></text>
<text y="1860.87" font-size="43.6"><tspan x="1747.21" textLength="25.88" lengthAdjust="spacingAndGlyphs">S</tspan><tspan x="1774.35" textLength="24.19" lengthAdjust="spacingAndGlyphs">n</tspan><tspan x="1800.49" textLength="12.52" lengthAdjust="spacingAndGlyphs">(</tspan><tspan x="1816.98" textLength="13.75" lengthAdjust="spacingAndGlyphs">t</tspan><tspan x="1832.32" textLength="11.95" lengthAdjust="spacingAndGlyphs">I</tspan><tspan x="1845.46" textLength="23.35" lengthAdjust="spacingAndGlyphs">2</tspan><tspan x="1873.75" textLength="12.52" lengthAdjust="spacingAndGlyphs">)</tspan></text>
<text x="224.28" y="3469.43" font-size="44.2" textLength="51.32" lengthAdjust="spacingAndGlyphs">20</text>
<text x="367.34" y="3469.43" font-size="44.2" textLength="51.07" lengthAdjust="spacingAndGlyphs">40</text>
<text x="508.78" y="3469.43" font-size="44.2" textLength="51.5" lengthAdjust="spacingAndGlyphs">60</text>
<text x="651.39" y="3469.43" font-size="44.2" textLength="51.22" lengthAdjust="spacingAndGlyphs">80</text>
<text y="2787.7" font-size="44.2"><tspan x="76.75" textLength="31.35" lengthAdjust="spacingAndGlyphs">−</tspan><tspan x="110.92" textLength="90.81" lengthAdjust="spacingAndGlyphs">1.50</tspan></text>
<text y="2875.7" font-size="44.2"><tspan x="77.62" textLength="31.35" lengthAdjust="spacingAndGlyphs">−</tspan><tspan x="111.82" textLength="90.02" lengthAdjust="spacingAndGlyphs">1.75</tspan></text>
<text y="2963.7" font-size="44.2"><tspan x="76.75" textLength="31.35" lengthAdjust="spacingAndGlyphs">−</tspan><tspan x="110.59" textLength="91.14" lengthAdjust="spacingAndGlyphs">2.00</tspan></text>
<text y="3051.7" font-size="44.2"><tspan x="77.62" textLength="31.35" lengthAdjust="spacingAndGlyphs">−</tspan><tspan x="111.48" textLength="90.37" lengthAdjust="spacingAndGlyphs">2.25</tspan></text>
<text y="3139.7" font-size="44.2"><tspan x="76.75" textLength="31.35" lengthAdjust="spacingAndGlyphs">−</tspan><tspan x="110.59" textLength="91.14" lengthAdjust="spacingAndGlyphs">2.50</tspan></text>
<text y="3227.7" font-size="44.2"><tspan x="77.62" textLength="31.35" lengthAdjust="spacingAndGlyphs">−</tspan><tspan x="111.48" textLength="90.37" lengthAdjust="spacingAndGlyphs">2.75</tspan></text>
<text y="3315.7" font-size="44.2"><tspan x="76.75" textLength="31.35" lengthAdjust="spacingAndGlyphs">−</tspan><tspan x="111.3" textLength="90.42" lengthAdjust="spacingAndGlyphs">3.00</tspan></text>
<text y="3403.7" font-size="44.2"><tspan x="77.62" textLength="31.35" lengthAdjust="spacingAndGlyphs">−</tspan><tspan x="112.19" textLength="89.65" lengthAdjust="spacingAndGlyphs">3.25</tspan></text>
<text y="2708.83" font-size="43.6"><tspan x="237.94" textLength="26.42" lengthAdjust="spacingAndGlyphs">S</tspan><tspan x="265.18" textLength="9.55" lengthAdjust="spacingAndGlyphs">i</tspan><tspan x="276.51" textLength="12.78" lengthAdjust="spacingAndGlyphs">(</tspan><tspan x="292.03" textLength="12.19" lengthAdjust="spacingAndGlyphs">I</tspan><tspan x="305.33" textLength="24.36" lengthAdjust="spacingAndGlyphs">4</tspan><tspan x="332.07" textLength="38.23" lengthAdjust="spacingAndGlyphs">m</tspan><tspan x="372.66" textLength="38.23" lengthAdjust="spacingAndGlyphs">m</tspan><tspan x="413.25" textLength="38.23" lengthAdjust="spacingAndGlyphs">m</tspan><tspan x="455.24" textLength="12.78" lengthAdjust="spacingAndGlyphs">)</tspan></text>
<text transform="translate(49 3249.33) rotate(-90)" y="0" font-size="43.6"><tspan x="-3.98" textLength="26.01" lengthAdjust="spacingAndGlyphs">E</tspan><tspan x="23.16" textLength="24.72" lengthAdjust="spacingAndGlyphs">n</tspan><tspan x="49.16" textLength="24.75" lengthAdjust="spacingAndGlyphs">e</tspan><tspan x="75.28" textLength="16.42" lengthAdjust="spacingAndGlyphs">r</tspan><tspan x="91.22" textLength="24.84" lengthAdjust="spacingAndGlyphs">g</tspan><tspan x="118.33" textLength="22.17" lengthAdjust="spacingAndGlyphs">y</tspan> <tspan x="155.76" textLength="12.79" lengthAdjust="spacingAndGlyphs">(</tspan><tspan x="171.77" textLength="24.75" lengthAdjust="spacingAndGlyphs">e</tspan><tspan x="196.81" textLength="28.59" lengthAdjust="spacingAndGlyphs">V</tspan><tspan x="225.76" textLength="13.25" lengthAdjust="spacingAndGlyphs">/</tspan><tspan x="239.59" textLength="22.17" lengthAdjust="spacingAndGlyphs">a</tspan><tspan x="265.94" textLength="14.05" lengthAdjust="spacingAndGlyphs">t</tspan><tspan x="281.76" textLength="24.51" lengthAdjust="spacingAndGlyphs">o</tspan><tspan x="308.01" textLength="38.28" lengthAdjust="spacingAndGlyphs">m</tspan><tspan x="350.01" textLength="12.79" lengthAdjust="spacingAndGlyphs">)</tspan></text>
<text y="3534.93" font-size="43.6"><tspan x="334.01" textLength="28.98" lengthAdjust="spacingAndGlyphs">V</tspan><tspan x="360.14" textLength="24.84" lengthAdjust="spacingAndGlyphs">o</tspan><tspan x="386.45" textLength="9.69" lengthAdjust="spacingAndGlyphs">l</tspan><tspan x="397.89" textLength="25.05" lengthAdjust="spacingAndGlyphs">u</tspan><tspan x="425.11" textLength="38.79" lengthAdjust="spacingAndGlyphs">m</tspan><tspan x="465.44" textLength="25.08" lengthAdjust="spacingAndGlyphs">e</tspan> <tspan x="505.03" textLength="12.96" lengthAdjust="spacingAndGlyphs">(</tspan><tspan class="sf" font-size="47" x="520.52" textLength="29.81" lengthAdjust="spacingAndGlyphs">Å</tspan><tspan class="sf" font-size="30.3" x="552.4" y="3519.63" textLength="14.89" lengthAdjust="spacingAndGlyphs">3</tspan><tspan x="570.26" y="3534.93" textLength="13.39" lengthAdjust="spacingAndGlyphs">/</tspan><tspan x="584.08" y="3534.93" textLength="22.4" lengthAdjust="spacingAndGlyphs">a</tspan><tspan x="610.51" y="3534.93" textLength="14.19" lengthAdjust="spacingAndGlyphs">t</tspan><tspan x="626.33" y="3534.93" textLength="24.76" lengthAdjust="spacingAndGlyphs">o</tspan><tspan x="652.58" y="3534.93" textLength="38.67" lengthAdjust="spacingAndGlyphs">m</tspan><tspan x="694.78" y="3534.93" textLength="12.92" lengthAdjust="spacingAndGlyphs">)</tspan></text>
<text x="947.35" y="3469.43" font-size="44.2" textLength="90.91" lengthAdjust="spacingAndGlyphs">0.00</text>
<text x="1088.66" y="3469.43" font-size="44.2" textLength="90.14" lengthAdjust="spacingAndGlyphs">0.25</text>
<text x="1229.07" y="3469.43" font-size="44.2" textLength="90.91" lengthAdjust="spacingAndGlyphs">0.50</text>
<text x="1370.39" y="3469.43" font-size="44.2" textLength="90.14" lengthAdjust="spacingAndGlyphs">0.75</text>
<text x="1509.98" y="3469.43" font-size="44.2" textLength="90.81" lengthAdjust="spacingAndGlyphs">1.00</text>
<text x="891.96" y="2747.7" font-size="44.2" textLength="64.25" lengthAdjust="spacingAndGlyphs">1.0</text>
<text x="891.92" y="2881.7" font-size="44.2" textLength="64.5" lengthAdjust="spacingAndGlyphs">0.8</text>
<text x="891.69" y="3015.7" font-size="44.2" textLength="64.76" lengthAdjust="spacingAndGlyphs">0.6</text>
<text x="891.41" y="3149.7" font-size="44.2" textLength="64.34" lengthAdjust="spacingAndGlyphs">0.4</text>
<text x="893.27" y="3284.7" font-size="44.2" textLength="63.42" lengthAdjust="spacingAndGlyphs">0.2</text>
<text x="891.84" y="3418.7" font-size="44.2" textLength="64.37" lengthAdjust="spacingAndGlyphs">0.0</text>
<text y="3534.93" font-size="43.6"><tspan x="1088.51" textLength="28.98" lengthAdjust="spacingAndGlyphs">V</tspan><tspan x="1114.64" textLength="24.84" lengthAdjust="spacingAndGlyphs">o</tspan><tspan x="1140.95" textLength="9.69" lengthAdjust="spacingAndGlyphs">l</tspan><tspan x="1152.39" textLength="25.05" lengthAdjust="spacingAndGlyphs">u</tspan><tspan x="1179.61" textLength="38.79" lengthAdjust="spacingAndGlyphs">m</tspan><tspan x="1219.94" textLength="25.08" lengthAdjust="spacingAndGlyphs">e</tspan> <tspan x="1259.53" textLength="12.96" lengthAdjust="spacingAndGlyphs">(</tspan><tspan class="sf" font-size="47" x="1275.02" textLength="29.81" lengthAdjust="spacingAndGlyphs">Å</tspan><tspan class="sf" font-size="30.3" x="1306.9" y="3519.63" textLength="14.89" lengthAdjust="spacingAndGlyphs">3</tspan><tspan x="1324.76" y="3534.93" textLength="13.39" lengthAdjust="spacingAndGlyphs">/</tspan><tspan x="1338.58" y="3534.93" textLength="22.4" lengthAdjust="spacingAndGlyphs">a</tspan><tspan x="1365.01" y="3534.93" textLength="14.19" lengthAdjust="spacingAndGlyphs">t</tspan><tspan x="1380.83" y="3534.93" textLength="24.76" lengthAdjust="spacingAndGlyphs">o</tspan><tspan x="1407.08" y="3534.93" textLength="38.67" lengthAdjust="spacingAndGlyphs">m</tspan><tspan x="1449.28" y="3534.93" textLength="12.92" lengthAdjust="spacingAndGlyphs">)</tspan></text>
<text x="1701.85" y="3469.43" font-size="44.2" textLength="90.91" lengthAdjust="spacingAndGlyphs">0.00</text>
<text x="1843.16" y="3469.43" font-size="44.2" textLength="90.14" lengthAdjust="spacingAndGlyphs">0.25</text>
<text x="1983.57" y="3469.43" font-size="44.2" textLength="90.91" lengthAdjust="spacingAndGlyphs">0.50</text>
<text x="2124.89" y="3469.43" font-size="44.2" textLength="90.14" lengthAdjust="spacingAndGlyphs">0.75</text>
<text x="2264.48" y="3469.43" font-size="44.2" textLength="90.81" lengthAdjust="spacingAndGlyphs">1.00</text>
<text x="1646.46" y="2747.7" font-size="44.2" textLength="64.25" lengthAdjust="spacingAndGlyphs">1.0</text>
<text x="1646.42" y="2881.7" font-size="44.2" textLength="64.5" lengthAdjust="spacingAndGlyphs">0.8</text>
<text x="1646.19" y="3015.7" font-size="44.2" textLength="64.76" lengthAdjust="spacingAndGlyphs">0.6</text>
<text x="1645.91" y="3149.7" font-size="44.2" textLength="64.34" lengthAdjust="spacingAndGlyphs">0.4</text>
<text x="1647.77" y="3284.7" font-size="44.2" textLength="63.42" lengthAdjust="spacingAndGlyphs">0.2</text>
<text x="1646.34" y="3418.7" font-size="44.2" textLength="64.37" lengthAdjust="spacingAndGlyphs">0.0</text>
<text y="3534.93" font-size="43.6"><tspan x="1843.01" textLength="28.98" lengthAdjust="spacingAndGlyphs">V</tspan><tspan x="1869.14" textLength="24.84" lengthAdjust="spacingAndGlyphs">o</tspan><tspan x="1895.45" textLength="9.69" lengthAdjust="spacingAndGlyphs">l</tspan><tspan x="1906.89" textLength="25.05" lengthAdjust="spacingAndGlyphs">u</tspan><tspan x="1934.11" textLength="38.79" lengthAdjust="spacingAndGlyphs">m</tspan><tspan x="1974.44" textLength="25.08" lengthAdjust="spacingAndGlyphs">e</tspan> <tspan x="2014.03" textLength="12.96" lengthAdjust="spacingAndGlyphs">(</tspan><tspan class="sf" font-size="47" x="2029.52" textLength="29.81" lengthAdjust="spacingAndGlyphs">Å</tspan><tspan class="sf" font-size="30.3" x="2061.4" y="3519.63" textLength="14.89" lengthAdjust="spacingAndGlyphs">3</tspan><tspan x="2079.26" y="3534.93" textLength="13.39" lengthAdjust="spacingAndGlyphs">/</tspan><tspan x="2093.08" y="3534.93" textLength="22.4" lengthAdjust="spacingAndGlyphs">a</tspan><tspan x="2119.51" y="3534.93" textLength="14.19" lengthAdjust="spacingAndGlyphs">t</tspan><tspan x="2135.33" y="3534.93" textLength="24.76" lengthAdjust="spacingAndGlyphs">o</tspan><tspan x="2161.58" y="3534.93" textLength="38.67" lengthAdjust="spacingAndGlyphs">m</tspan><tspan x="2203.78" y="3534.93" textLength="12.92" lengthAdjust="spacingAndGlyphs">)</tspan></text>
<text y="110" font-size="52.6"><tspan x="722.23" textLength="31.2" lengthAdjust="spacingAndGlyphs">E</tspan><tspan x="754.35" textLength="29.78" lengthAdjust="spacingAndGlyphs">q</tspan><tspan x="786.31" textLength="29.65" lengthAdjust="spacingAndGlyphs">u</tspan><tspan x="817.32" textLength="26.6" lengthAdjust="spacingAndGlyphs">a</tspan><tspan x="848.93" textLength="16.85" lengthAdjust="spacingAndGlyphs">t</tspan><tspan x="868.55" textLength="11.47" lengthAdjust="spacingAndGlyphs">i</tspan><tspan x="881.81" textLength="29.41" lengthAdjust="spacingAndGlyphs">o</tspan><tspan x="912.91" textLength="29.65" lengthAdjust="spacingAndGlyphs">n</tspan> <tspan x="959.96" textLength="29.41" lengthAdjust="spacingAndGlyphs">o</tspan><tspan x="990.99" textLength="16.67" lengthAdjust="spacingAndGlyphs">f</tspan> <tspan x="1024.37" textLength="24.84" lengthAdjust="spacingAndGlyphs">s</tspan><tspan x="1050.69" textLength="16.85" lengthAdjust="spacingAndGlyphs">t</tspan><tspan x="1069.31" textLength="26.6" lengthAdjust="spacingAndGlyphs">a</tspan><tspan x="1100.92" textLength="16.85" lengthAdjust="spacingAndGlyphs">t</tspan><tspan x="1119.94" textLength="29.69" lengthAdjust="spacingAndGlyphs">e</tspan> <tspan x="1166.88" textLength="15.34" lengthAdjust="spacingAndGlyphs">(</tspan><tspan x="1185.72" textLength="31.73" lengthAdjust="spacingAndGlyphs">S</tspan><tspan x="1218.3" textLength="29.65" lengthAdjust="spacingAndGlyphs">n</tspan><tspan x="1247.42" textLength="17.75" lengthAdjust="spacingAndGlyphs">,</tspan> <tspan x="1281.9" textLength="29.82" lengthAdjust="spacingAndGlyphs">p</tspan><tspan x="1312.97" textLength="29.41" lengthAdjust="spacingAndGlyphs">o</tspan><tspan x="1344.16" textLength="11.47" lengthAdjust="spacingAndGlyphs">l</tspan><tspan x="1358.32" textLength="26.6" lengthAdjust="spacingAndGlyphs">y</tspan><tspan x="1387.95" textLength="45.91" lengthAdjust="spacingAndGlyphs">m</tspan><tspan x="1436.33" textLength="11.47" lengthAdjust="spacingAndGlyphs">l</tspan><tspan x="1450.27" textLength="29.82" lengthAdjust="spacingAndGlyphs">p</tspan><tspan x="1480.88" textLength="17.75" lengthAdjust="spacingAndGlyphs">-</tspan><tspan x="1500.04" textLength="29.26" lengthAdjust="spacingAndGlyphs">0</tspan><tspan x="1531.84" textLength="29.26" lengthAdjust="spacingAndGlyphs">0</tspan><tspan x="1563.79" textLength="28.46" lengthAdjust="spacingAndGlyphs">1</tspan><tspan x="1595.45" textLength="29.26" lengthAdjust="spacingAndGlyphs">0</tspan><tspan x="1627.4" textLength="28.46" lengthAdjust="spacingAndGlyphs">1</tspan><tspan x="1661.02" textLength="15.34" lengthAdjust="spacingAndGlyphs">)</tspan></text>
</g>
</svg>
</body></html>
